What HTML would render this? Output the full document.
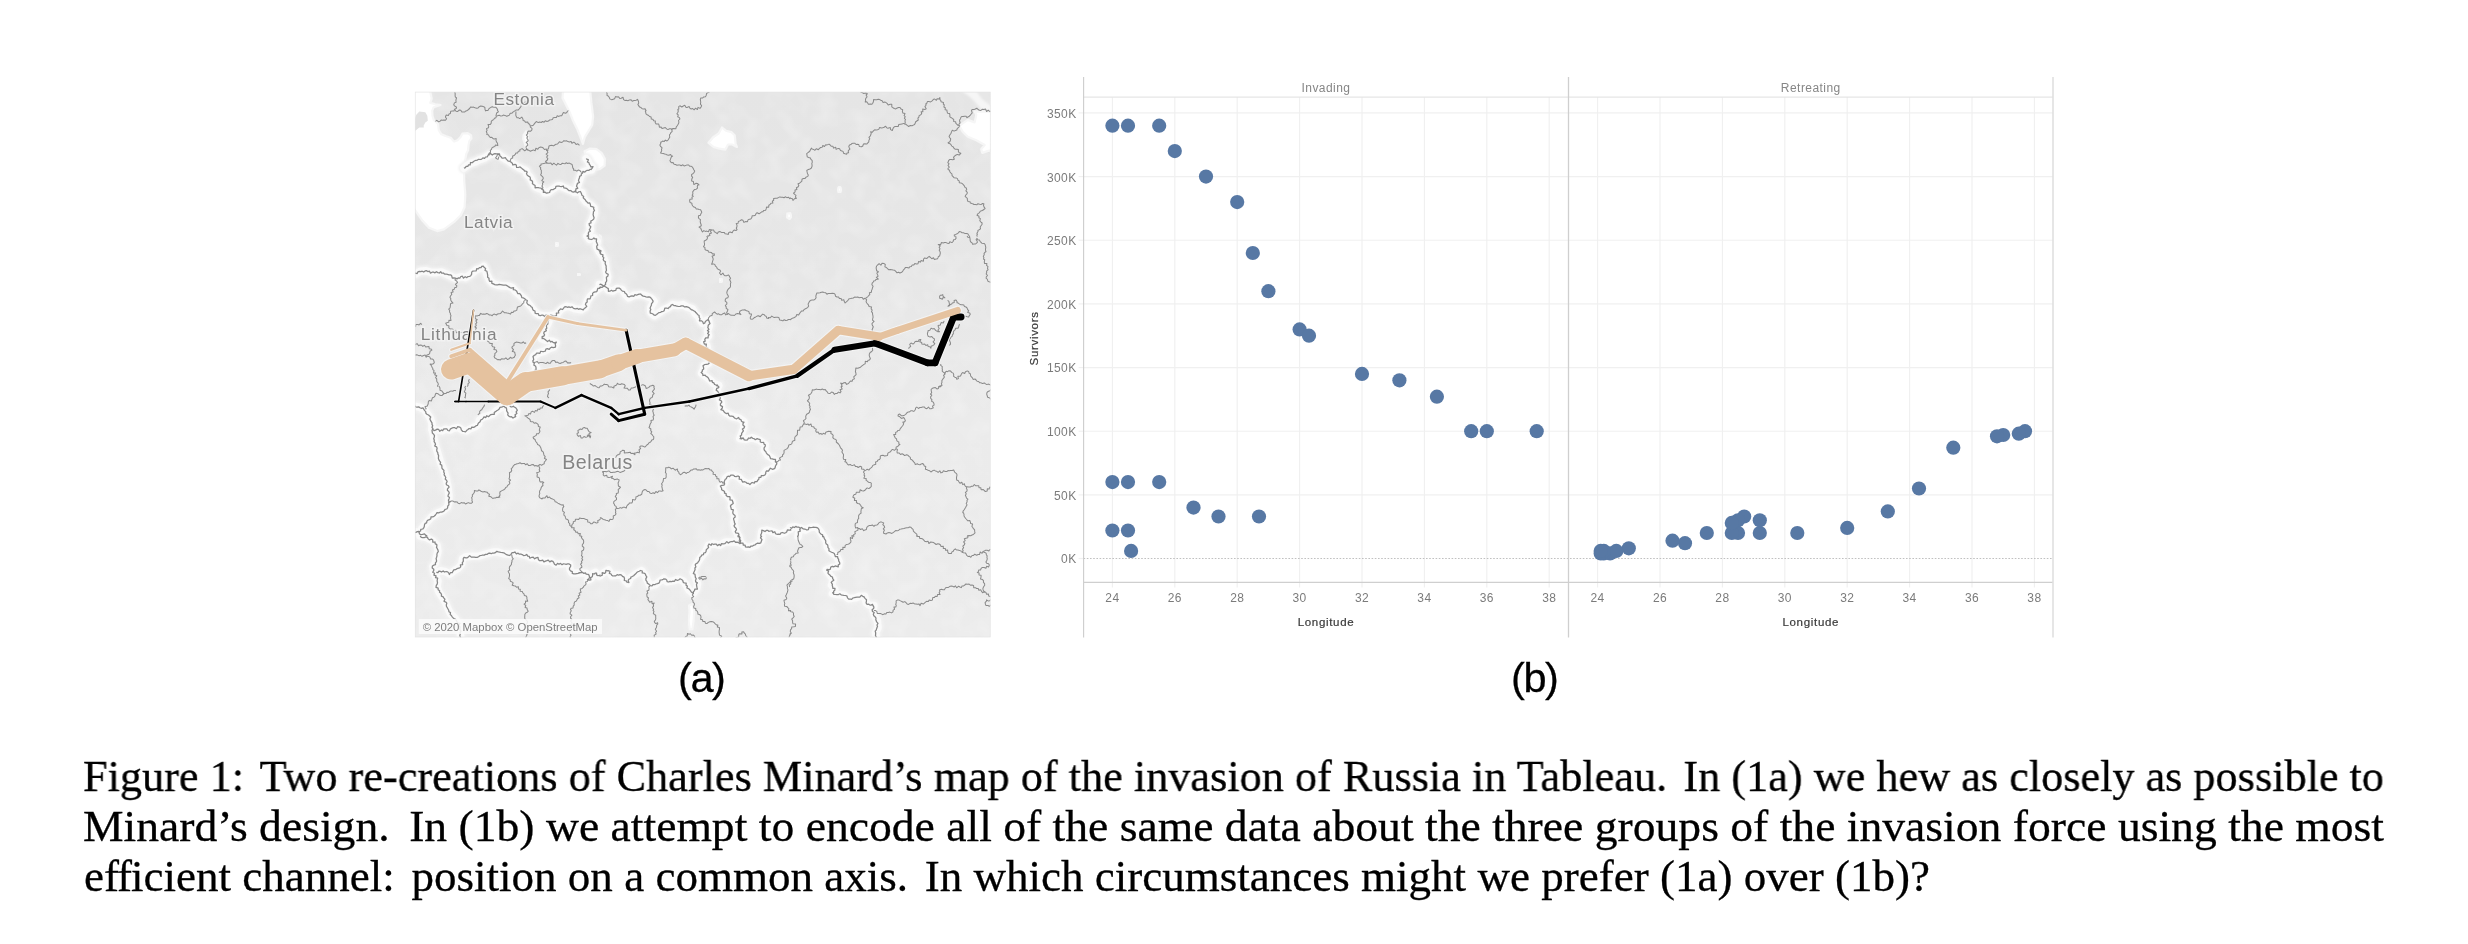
<!DOCTYPE html>
<html><head><meta charset="utf-8"><title>Figure 1</title>
<style>
html,body{margin:0;padding:0;background:#fff;}
body{width:2468px;height:944px;position:relative;overflow:hidden;font-family:"Liberation Sans",sans-serif;}
svg{position:absolute;left:0;top:0;will-change:transform;}
.sub,.cap{will-change:transform;}
.tk{font-family:"Liberation Sans",sans-serif;font-size:12px;fill:#7b7b7b;letter-spacing:0.35px;}
.hd{font-family:"Liberation Sans",sans-serif;font-size:12px;fill:#868686;letter-spacing:0.45px;}
.ax{font-family:"Liberation Sans",sans-serif;font-size:11.5px;fill:#3c3c3c;letter-spacing:0.68px;stroke:#3c3c3c;stroke-width:0.22px;}
.ml{font-family:"Liberation Sans",sans-serif;fill:#848484;}
.sub{position:absolute;letter-spacing:-1.4px;-webkit-text-stroke:0.3px #000;font-family:"Liberation Sans",sans-serif;font-size:41.5px;color:#000;line-height:1;white-space:nowrap;}
.cap{position:absolute;left:83px;font-family:"Liberation Serif",serif;font-size:45px;line-height:50px;transform-origin:0 0;color:#000;white-space:nowrap;height:50px;-webkit-text-stroke:0.3px #000;}
.sp{display:inline-block;width:5.3px;}
.cap.last{text-align:left;text-align-last:left;}
</style></head><body>
<svg width="2468" height="944" viewBox="0 0 2468 944">
<defs>
<clipPath id="mc"><rect x="415" y="92" width="575.5" height="545.2"/></clipPath>
<linearGradient id="lg" x1="0" y1="0" x2="0" y2="1"><stop offset="0" stop-color="#e5e5e5"/><stop offset="0.35" stop-color="#e7e7e7"/><stop offset="0.6" stop-color="#ebebeb"/><stop offset="1" stop-color="#ececec"/></linearGradient>
<filter id="bl" x="-5%" y="-5%" width="110%" height="110%"><feGaussianBlur stdDeviation="1.3"/></filter>
<filter id="tx" x="0" y="0" width="100%" height="100%"><feTurbulence type="fractalNoise" baseFrequency="0.055" numOctaves="2" seed="7"/><feColorMatrix type="matrix" values="0 0 0 0 1  0 0 0 0 1  0 0 0 0 1  1.6 0 0 0 -0.62"/></filter>
<filter id="bw" x="-5%" y="-5%" width="110%" height="110%"><feGaussianBlur stdDeviation="0.6"/></filter>
</defs>
<g clip-path="url(#mc)">
<rect x="415" y="92" width="575.5" height="545.2" fill="url(#lg)"/>
<rect x="415" y="92" width="575.5" height="545.2" filter="url(#tx)" opacity="0.3"/>
<path d="M410.0,86.0 L430.3,86.0 L430.3,92.1 L431.7,98.7 L430.3,102.9 L435.4,104.3 L440.5,105.0 L433.7,107.2 L432.2,110.6 L432.5,115.7 L433.7,119.9 L435.4,121.3 L438.0,124.1 L438.8,130.1 L441.4,134.3 L445.6,136.0 L450.7,137.7 L454.1,141.6 L457.5,140.2 L460.8,136.8 L462.5,133.5 L467.6,133.1 L471.0,135.2 L471.4,138.5 L469.3,141.1 L468.5,145.3 L468.0,150.4 L466.3,153.8 L463.9,167.4 L464.2,180.9 L465.3,194.5 L464.6,207.2 L460.8,215.2 L454.4,221.6 L443.9,229.4 L437.1,231.1 L429.0,227.7 L421.9,219.9 L410.0,202.9Z" fill="#ffffff" stroke="#f6f6f6" stroke-width="2.2" stroke-linejoin="round" filter="url(#bw)"/>
<path d="M563.4,86.0 L589.7,86.0 L591.4,102.9 L593.1,116.5 L592.2,125.0 L588.0,131.8 L584.9,136.8 L582.9,144.0 L580.3,136.8 L576.9,128.4 L572.7,119.9 L569.3,111.4 L565.1,102.9 L562.5,97.9Z" fill="#ffffff" stroke="#f6f6f6" stroke-width="2.2" stroke-linejoin="round" filter="url(#bw)"/>
<path d="M584.6,151.3 L589.7,148.7 L596.4,149.1 L601.5,152.9 L604.9,158.9 L604.6,165.7 L599.8,169.1 L593.9,169.9 L591.4,165.7 L587.1,160.6Z" fill="#ffffff" stroke="#f6f6f6" stroke-width="2.2" stroke-linejoin="round" filter="url(#bw)"/>
<path d="M523.6,135.2 L526.1,131.4 L528.0,135.2 L527.6,143.6 L526.6,150.1 L524.9,143.6 L523.2,138.9Z" fill="#ffffff" stroke="#f6f6f6" stroke-width="2.2" stroke-linejoin="round" filter="url(#bw)"/>
<path d="M708.5,142.8 L712.7,137.7 L718.6,133.5 L722.0,127.5 L726.3,130.9 L731.4,132.1 L734.7,135.2 L735.6,143.6 L736.9,147.0 L732.2,144.5 L728.0,144.5 L725.4,149.6 L719.5,148.7 L713.6,147.0Z" fill="#ffffff" stroke="#f6f6f6" stroke-width="2.2" stroke-linejoin="round" filter="url(#bw)"/>
<path d="M787.3,213.5 L790.2,213.1 L791.5,216.5 L789.5,219.2 L787.1,217.4Z" fill="#ffffff" stroke="#f6f6f6" stroke-width="2.2" stroke-linejoin="round" filter="url(#bw)"/>
<path d="M599.2,235.2 L601.4,236.8 L601.7,241.9 L599.2,244.5Z" fill="#ffffff" stroke="#f6f6f6" stroke-width="2.2" stroke-linejoin="round" filter="url(#bw)"/>
<path d="M959.3,125.8 L962.7,123.3 L967.8,119.9 L974.6,122.4 L976.3,114.8 L974.6,111.4 L992.5,111.8 L992.5,150.4 L988.1,150.9 L982.2,152.9 L981.2,149.1 L984.7,145.0 L976.3,140.2 L967.8,136.8 L962.7,131.8Z" fill="#ffffff" stroke="#f6f6f6" stroke-width="2.2" stroke-linejoin="round" filter="url(#bw)"/>
<path d="M841.0,189.7 L840.8,191.2 L840.3,192.2 L839.5,192.6 L838.7,192.2 L838.2,191.2 L838.0,189.7 L838.2,188.3 L838.7,187.2 L839.5,186.8 L840.3,187.2 L840.8,188.3Z" fill="#ffffff" stroke="#f6f6f6" stroke-width="2.2" stroke-linejoin="round" filter="url(#bw)"/>
<path d="M558.3,244.5 L558.1,245.4 L557.5,246.1 L556.8,246.3 L556.0,246.1 L555.5,245.4 L555.3,244.5 L555.5,243.5 L556.0,242.9 L556.8,242.6 L557.5,242.9 L558.1,243.5Z" fill="#ffffff" stroke="#f6f6f6" stroke-width="2.2" stroke-linejoin="round" filter="url(#bw)"/>
<path d="M580.0,274.6 L579.8,275.2 L579.3,275.5 L578.6,275.7 L578.0,275.5 L577.5,275.2 L577.3,274.6 L577.5,274.1 L578.0,273.8 L578.6,273.6 L579.3,273.8 L579.8,274.1Z" fill="#ffffff" stroke="#f6f6f6" stroke-width="2.2" stroke-linejoin="round" filter="url(#bw)"/>
<path d="M722.2,280.4 L722.0,281.4 L721.4,282.2 L720.7,282.4 L719.9,282.2 L719.4,281.4 L719.2,280.4 L719.4,279.4 L719.9,278.6 L720.7,278.4 L721.4,278.6 L722.0,279.4Z" fill="#ffffff" stroke="#f6f6f6" stroke-width="2.2" stroke-linejoin="round" filter="url(#bw)"/>
<path d="M689.0,605.5 L692.4,603.8 L694.1,610.6 L693.6,620.7 L692.4,629.2 L689.8,629.2 L688.5,620.7 L689.5,612.3Z" fill="#ffffff" stroke="#f6f6f6" stroke-width="2.2" stroke-linejoin="round" filter="url(#bw)"/>
<path d="M961.0,91.1 L976.3,91.1 L981.4,98.7 L992.5,107.2 L992.5,111.4 L981.4,108.9 L974.6,101.3 L967.8,95.3Z" fill="#f6f6f6" filter="url(#bl)"/>
<path d="M415.1,118.2 L416.3,114.8 L419.3,111.4 L425.3,112.3 L427.3,115.7 L427.8,120.7 L425.3,122.4 L423.6,125.8 L423.9,127.5 L419.3,127.5 L415.1,131.1Z" fill="#e2e2e2" filter="url(#bw)"/>
<g fill="none" stroke="#f2f2f2" stroke-width="11" stroke-linejoin="round" stroke-linecap="round" filter="url(#bl)">
<path d="M463.9,168.2 L466.8,165.7 L471.0,163.1 L475.3,161.9 L479.5,159.7 L484.6,158.0 L489.7,154.6 L494.7,153.5 L498.1,153.8 L502.4,157.2 L506.6,159.7 L510.0,161.9 L514.2,164.8 L518.5,167.4 L521.9,169.1 L526.1,170.7 L526.9,174.1 L530.3,177.5 L532.9,182.6 L535.4,186.8 L538.8,188.5 L542.2,189.4 L544.7,192.8 L548.1,192.4 L552.4,189.4 L557.5,186.0 L560.0,185.7 L564.2,187.7 L569.3,189.7 L574.4,191.9 L576.9,187.7 L578.6,182.6 L580.3,177.5 L582.0,172.4 L586.3,170.7 L591.4,169.9 L592.7,167.4 L589.7,164.8 L588.0,160.6 L586.3,158.5"/>
<path d="M574.4,191.9 L579.5,191.9 L582.0,192.8 L582.9,197.9 L586.3,202.1 L590.5,204.6 L593.9,208.0 L594.4,213.1 L592.2,219.9 L589.7,225.0 L590.5,230.1 L588.0,235.2 L587.6,236.6"/>
<path d="M587.1,236.0 L589.7,239.4 L593.9,237.7 L597.3,241.1 L596.4,246.2 L599.0,251.3 L600.6,253.7"/>
<path d="M600.6,287.2 L599.8,287.7 L594.7,291.9 L590.5,296.2 L587.1,301.3 L585.4,307.2 L581.2,309.7 L575.3,308.9 L571.0,307.2 L566.8,306.3 L561.7,308.9 L558.3,312.3 L556.6,314.8"/>
<path d="M410.0,275.0 L415.1,274.1 L420.2,271.3 L426.1,270.7 L431.2,272.4 L437.1,272.4 L441.4,271.9 L446.4,274.1 L451.5,276.7 L455.8,278.4 L460.8,276.7 L465.9,277.5 L471.0,274.1 L476.1,269.9 L481.2,268.2 L483.7,266.5 L485.4,269.9 L487.1,275.0 L489.7,280.1 L493.1,283.5 L498.1,285.2 L503.2,286.0 L508.3,286.0 L512.5,287.7 L515.9,291.9 L520.2,295.3 L525.3,299.6 L528.6,303.8 L532.0,308.0 L535.4,312.3 L538.8,314.8 L543.9,316.0 L550.7,315.7 L556.6,314.8"/>
<path d="M550.7,315.7 L548.1,323.3 L545.6,328.4 L544.7,334.3 L541.4,338.5 L545.6,340.2 L552.4,341.1 L556.1,342.8 L554.1,347.0 L549.0,348.7 L543.9,351.3 L538.8,352.9 L533.7,356.3 L532.9,361.4 L535.4,366.5 L537.1,369.9 L528.6,376.7 L518.5,383.5 L514.5,386.6"/>
<path d="M506.6,403.8 L510.0,405.5 L514.2,406.3 L516.8,410.6 L515.9,415.7 L511.7,417.4 L508.3,415.7 L507.5,411.4 L506.6,407.2 L504.9,406.3 L500.7,408.0 L496.4,410.6 L493.1,414.0 L488.0,415.7 L482.9,417.4 L479.5,419.9 L478.6,424.1 L475.3,426.7 L471.0,428.4 L466.8,430.9 L462.5,430.1 L458.3,427.5 L453.2,428.4 L449.8,430.1 L445.6,429.2 L442.2,430.9 L437.1,430.1 L432.0,429.2"/>
<path d="M410.0,406.0 L415.1,406.3 L419.3,407.2 L424.4,409.7 L426.9,413.1 L430.3,418.2 L432.0,423.3 L432.0,429.2 L433.7,436.8 L435.4,445.3 L438.0,453.8 L440.5,462.3 L443.9,470.7 L446.4,479.2 L448.1,487.7 L449.0,496.2 L448.6,502.9 L447.3,507.2 L443.1,510.6 L437.1,513.1 L431.2,517.4 L426.9,522.4 L422.7,527.5 L419.3,532.6 L424.4,535.2 L426.6,536.6"/>
<path d="M410.0,531.4 L415.1,531.8 L419.3,532.6"/>
<path d="M420.2,536.0 L426.9,537.7 L432.9,541.1 L437.1,545.3 L438.0,551.3 L436.3,558.0 L435.4,563.1 L432.9,566.5 L433.7,572.4 L436.3,577.5 L438.0,580.9 L437.1,586.8 L438.8,591.9 L442.2,597.0 L445.6,602.9 L448.1,608.9 L450.7,614.0 L454.9,618.2 L459.2,624.1 L460.8,637.7"/>
<path d="M436.3,572.4 L440.5,570.7 L445.6,571.6 L449.8,574.1 L454.1,570.7 L458.3,568.2 L461.7,564.0 L462.5,558.9 L465.9,556.7 L472.7,556.3 L479.5,556.0 L486.3,553.8 L493.1,552.1 L498.1,552.1 L503.2,553.8 L510.0,554.3 L515.9,552.9 L521.9,554.3 L526.9,555.5 L531.2,557.7 L537.1,558.0 L541.4,560.6 L545.6,561.4 L550.7,561.1 L554.9,564.0 L560.8,564.0 L565.9,563.5 L569.3,564.0 L570.2,569.9 L571.9,572.9 L579.5,572.9 L586.3,573.3 L588.8,575.8 L588.0,580.1 L591.4,578.4 L593.1,573.3 L595.6,572.4 L598.1,575.8 L600.6,575.0"/>
<path d="M599.4,576.2 L600.0,575.8 L604.2,572.4 L608.5,569.9 L611.9,575.8 L616.9,575.0 L622.0,575.8 L625.4,580.9 L628.0,583.5 L630.5,577.5 L635.6,574.1 L641.5,570.7 L644.9,575.0 L647.5,580.9 L650.0,586.0 L655.9,584.3 L660.2,580.9 L663.6,578.4 L666.9,581.8 L672.9,580.9 L678.8,579.2 L683.1,580.9 L686.4,585.2 L689.0,590.2 L693.2,593.6 L696.6,588.5 L697.5,583.5 L695.8,578.4 L693.2,572.4 L694.9,567.4 L698.3,561.4 L701.7,556.3 L705.9,551.3 L708.5,545.3 L713.6,543.6 L719.5,545.3 L725.4,541.9 L733.9,541.9 L740.7,542.8 L745.8,547.0 L750.8,547.0 L755.9,545.3 L761.0,541.1 L761.9,536.0"/>
<path d="M599.4,284.6 L604.2,285.2 L608.5,290.2 L612.7,291.1 L616.9,288.5 L622.0,289.4 L625.4,294.5 L628.8,297.9 L633.9,295.3 L640.7,294.5 L646.6,296.2 L651.7,298.7 L654.2,301.3 L650.8,307.2 L650.8,312.3 L654.2,315.7 L658.5,313.1 L663.6,309.7 L667.8,308.0 L672.9,304.6 L678.0,305.5 L683.1,304.6 L687.3,307.2 L692.4,308.9 L694.9,313.1 L698.3,316.5 L700.0,319.9 L702.5,323.3 L705.9,320.7 L708.5,319.9 L709.3,325.8 L707.6,330.9 L708.5,336.0 L705.9,339.4 L704.2,342.8 L706.8,345.3 L708.5,354.6 L708.5,363.5 L704.2,365.7 L703.4,369.9 L701.7,373.3 L705.9,376.7 L710.2,380.1 L713.6,383.5 L718.6,385.2 L718.1,386.6"/>
<path d="M718.6,386.0 L716.9,389.4 L719.5,397.9 L721.2,402.9 L722.0,409.7 L726.3,413.1 L732.2,416.5 L739.0,418.2 L744.1,421.6 L743.7,428.4 L741.5,434.3 L739.8,438.5 L745.8,439.4 L752.5,437.7 L759.3,440.2 L765.3,444.5 L764.4,450.4 L767.8,455.5 L772.9,458.9 L776.3,461.4 L776.3,466.5 L771.2,469.1 L766.9,470.7 L762.7,475.8 L758.5,479.2 L752.5,483.5 L747.5,483.5 L742.4,480.9 L738.1,476.7 L733.9,475.0 L728.8,475.8 L725.4,478.4 L724.6,482.6 L721.2,486.8 L723.7,491.9 L728.8,497.0 L732.2,502.1 L731.4,507.2 L733.9,512.3 L734.7,517.4 L733.9,523.3 L735.6,530.1 L738.1,535.2 L738.9,536.6"/>
<path d="M761.1,536.6 L761.9,530.9 L766.9,530.1 L772.9,531.8 L779.7,534.3 L784.7,532.6 L789.8,529.2 L790.6,529.0"/>
<path d="M790.0,527.5 L795.1,526.7 L801.0,528.4 L805.3,530.1 L810.3,527.5 L816.3,527.0 L820.5,531.8 L823.7,536.6"/>
<path d="M801.0,528.4 L798.5,533.5 L798.0,536.6"/>
<path d="M823.1,536.0 L826.4,541.1 L827.3,547.0 L831.5,552.1 L836.6,556.3 L839.2,561.4 L838.3,566.5 L832.4,567.4 L826.4,569.9 L829.8,575.0 L833.2,579.2 L831.5,585.2 L834.9,589.4 L832.4,593.6 L837.5,594.5 L844.2,595.3 L848.5,598.7 L855.3,597.9 L859.5,596.2 L864.6,596.2 L866.3,602.9 L869.7,605.5 L873.9,605.5 L873.1,610.6 L874.7,615.7 L877.3,620.7 L878.1,627.5 L875.6,632.6 L876.4,637.7"/>
<path d="M599.4,250.1 L600.0,251.3 L602.5,256.3 L605.1,261.4 L605.9,268.2 L607.6,276.7 L606.8,281.8 L604.2,285.2 L599.4,288.1"/>
<path d="M737.8,535.4 L739.8,539.4 L740.7,542.8"/>
</g>
<g fill="none" stroke="#fafafa" stroke-width="7.5" stroke-linejoin="round" stroke-linecap="round" filter="url(#bw)">
<path d="M463.9,168.2 L466.8,165.7 L471.0,163.1 L475.3,161.9 L479.5,159.7 L484.6,158.0 L489.7,154.6 L494.7,153.5 L498.1,153.8 L502.4,157.2 L506.6,159.7 L510.0,161.9 L514.2,164.8 L518.5,167.4 L521.9,169.1 L526.1,170.7 L526.9,174.1 L530.3,177.5 L532.9,182.6 L535.4,186.8 L538.8,188.5 L542.2,189.4 L544.7,192.8 L548.1,192.4 L552.4,189.4 L557.5,186.0 L560.0,185.7 L564.2,187.7 L569.3,189.7 L574.4,191.9 L576.9,187.7 L578.6,182.6 L580.3,177.5 L582.0,172.4 L586.3,170.7 L591.4,169.9 L592.7,167.4 L589.7,164.8 L588.0,160.6 L586.3,158.5"/>
<path d="M574.4,191.9 L579.5,191.9 L582.0,192.8 L582.9,197.9 L586.3,202.1 L590.5,204.6 L593.9,208.0 L594.4,213.1 L592.2,219.9 L589.7,225.0 L590.5,230.1 L588.0,235.2 L587.6,236.6"/>
<path d="M587.1,236.0 L589.7,239.4 L593.9,237.7 L597.3,241.1 L596.4,246.2 L599.0,251.3 L600.6,253.7"/>
<path d="M600.6,287.2 L599.8,287.7 L594.7,291.9 L590.5,296.2 L587.1,301.3 L585.4,307.2 L581.2,309.7 L575.3,308.9 L571.0,307.2 L566.8,306.3 L561.7,308.9 L558.3,312.3 L556.6,314.8"/>
<path d="M410.0,275.0 L415.1,274.1 L420.2,271.3 L426.1,270.7 L431.2,272.4 L437.1,272.4 L441.4,271.9 L446.4,274.1 L451.5,276.7 L455.8,278.4 L460.8,276.7 L465.9,277.5 L471.0,274.1 L476.1,269.9 L481.2,268.2 L483.7,266.5 L485.4,269.9 L487.1,275.0 L489.7,280.1 L493.1,283.5 L498.1,285.2 L503.2,286.0 L508.3,286.0 L512.5,287.7 L515.9,291.9 L520.2,295.3 L525.3,299.6 L528.6,303.8 L532.0,308.0 L535.4,312.3 L538.8,314.8 L543.9,316.0 L550.7,315.7 L556.6,314.8"/>
<path d="M550.7,315.7 L548.1,323.3 L545.6,328.4 L544.7,334.3 L541.4,338.5 L545.6,340.2 L552.4,341.1 L556.1,342.8 L554.1,347.0 L549.0,348.7 L543.9,351.3 L538.8,352.9 L533.7,356.3 L532.9,361.4 L535.4,366.5 L537.1,369.9 L528.6,376.7 L518.5,383.5 L514.5,386.6"/>
<path d="M506.6,403.8 L510.0,405.5 L514.2,406.3 L516.8,410.6 L515.9,415.7 L511.7,417.4 L508.3,415.7 L507.5,411.4 L506.6,407.2 L504.9,406.3 L500.7,408.0 L496.4,410.6 L493.1,414.0 L488.0,415.7 L482.9,417.4 L479.5,419.9 L478.6,424.1 L475.3,426.7 L471.0,428.4 L466.8,430.9 L462.5,430.1 L458.3,427.5 L453.2,428.4 L449.8,430.1 L445.6,429.2 L442.2,430.9 L437.1,430.1 L432.0,429.2"/>
<path d="M410.0,406.0 L415.1,406.3 L419.3,407.2 L424.4,409.7 L426.9,413.1 L430.3,418.2 L432.0,423.3 L432.0,429.2 L433.7,436.8 L435.4,445.3 L438.0,453.8 L440.5,462.3 L443.9,470.7 L446.4,479.2 L448.1,487.7 L449.0,496.2 L448.6,502.9 L447.3,507.2 L443.1,510.6 L437.1,513.1 L431.2,517.4 L426.9,522.4 L422.7,527.5 L419.3,532.6 L424.4,535.2 L426.6,536.6"/>
<path d="M410.0,531.4 L415.1,531.8 L419.3,532.6"/>
<path d="M420.2,536.0 L426.9,537.7 L432.9,541.1 L437.1,545.3 L438.0,551.3 L436.3,558.0 L435.4,563.1 L432.9,566.5 L433.7,572.4 L436.3,577.5 L438.0,580.9 L437.1,586.8 L438.8,591.9 L442.2,597.0 L445.6,602.9 L448.1,608.9 L450.7,614.0 L454.9,618.2 L459.2,624.1 L460.8,637.7"/>
<path d="M436.3,572.4 L440.5,570.7 L445.6,571.6 L449.8,574.1 L454.1,570.7 L458.3,568.2 L461.7,564.0 L462.5,558.9 L465.9,556.7 L472.7,556.3 L479.5,556.0 L486.3,553.8 L493.1,552.1 L498.1,552.1 L503.2,553.8 L510.0,554.3 L515.9,552.9 L521.9,554.3 L526.9,555.5 L531.2,557.7 L537.1,558.0 L541.4,560.6 L545.6,561.4 L550.7,561.1 L554.9,564.0 L560.8,564.0 L565.9,563.5 L569.3,564.0 L570.2,569.9 L571.9,572.9 L579.5,572.9 L586.3,573.3 L588.8,575.8 L588.0,580.1 L591.4,578.4 L593.1,573.3 L595.6,572.4 L598.1,575.8 L600.6,575.0"/>
<path d="M599.4,576.2 L600.0,575.8 L604.2,572.4 L608.5,569.9 L611.9,575.8 L616.9,575.0 L622.0,575.8 L625.4,580.9 L628.0,583.5 L630.5,577.5 L635.6,574.1 L641.5,570.7 L644.9,575.0 L647.5,580.9 L650.0,586.0 L655.9,584.3 L660.2,580.9 L663.6,578.4 L666.9,581.8 L672.9,580.9 L678.8,579.2 L683.1,580.9 L686.4,585.2 L689.0,590.2 L693.2,593.6 L696.6,588.5 L697.5,583.5 L695.8,578.4 L693.2,572.4 L694.9,567.4 L698.3,561.4 L701.7,556.3 L705.9,551.3 L708.5,545.3 L713.6,543.6 L719.5,545.3 L725.4,541.9 L733.9,541.9 L740.7,542.8 L745.8,547.0 L750.8,547.0 L755.9,545.3 L761.0,541.1 L761.9,536.0"/>
<path d="M599.4,284.6 L604.2,285.2 L608.5,290.2 L612.7,291.1 L616.9,288.5 L622.0,289.4 L625.4,294.5 L628.8,297.9 L633.9,295.3 L640.7,294.5 L646.6,296.2 L651.7,298.7 L654.2,301.3 L650.8,307.2 L650.8,312.3 L654.2,315.7 L658.5,313.1 L663.6,309.7 L667.8,308.0 L672.9,304.6 L678.0,305.5 L683.1,304.6 L687.3,307.2 L692.4,308.9 L694.9,313.1 L698.3,316.5 L700.0,319.9 L702.5,323.3 L705.9,320.7 L708.5,319.9 L709.3,325.8 L707.6,330.9 L708.5,336.0 L705.9,339.4 L704.2,342.8 L706.8,345.3 L708.5,354.6 L708.5,363.5 L704.2,365.7 L703.4,369.9 L701.7,373.3 L705.9,376.7 L710.2,380.1 L713.6,383.5 L718.6,385.2 L718.1,386.6"/>
<path d="M718.6,386.0 L716.9,389.4 L719.5,397.9 L721.2,402.9 L722.0,409.7 L726.3,413.1 L732.2,416.5 L739.0,418.2 L744.1,421.6 L743.7,428.4 L741.5,434.3 L739.8,438.5 L745.8,439.4 L752.5,437.7 L759.3,440.2 L765.3,444.5 L764.4,450.4 L767.8,455.5 L772.9,458.9 L776.3,461.4 L776.3,466.5 L771.2,469.1 L766.9,470.7 L762.7,475.8 L758.5,479.2 L752.5,483.5 L747.5,483.5 L742.4,480.9 L738.1,476.7 L733.9,475.0 L728.8,475.8 L725.4,478.4 L724.6,482.6 L721.2,486.8 L723.7,491.9 L728.8,497.0 L732.2,502.1 L731.4,507.2 L733.9,512.3 L734.7,517.4 L733.9,523.3 L735.6,530.1 L738.1,535.2 L738.9,536.6"/>
<path d="M761.1,536.6 L761.9,530.9 L766.9,530.1 L772.9,531.8 L779.7,534.3 L784.7,532.6 L789.8,529.2 L790.6,529.0"/>
<path d="M790.0,527.5 L795.1,526.7 L801.0,528.4 L805.3,530.1 L810.3,527.5 L816.3,527.0 L820.5,531.8 L823.7,536.6"/>
<path d="M801.0,528.4 L798.5,533.5 L798.0,536.6"/>
<path d="M823.1,536.0 L826.4,541.1 L827.3,547.0 L831.5,552.1 L836.6,556.3 L839.2,561.4 L838.3,566.5 L832.4,567.4 L826.4,569.9 L829.8,575.0 L833.2,579.2 L831.5,585.2 L834.9,589.4 L832.4,593.6 L837.5,594.5 L844.2,595.3 L848.5,598.7 L855.3,597.9 L859.5,596.2 L864.6,596.2 L866.3,602.9 L869.7,605.5 L873.9,605.5 L873.1,610.6 L874.7,615.7 L877.3,620.7 L878.1,627.5 L875.6,632.6 L876.4,637.7"/>
<path d="M599.4,250.1 L600.0,251.3 L602.5,256.3 L605.1,261.4 L605.9,268.2 L607.6,276.7 L606.8,281.8 L604.2,285.2 L599.4,288.1"/>
<path d="M737.8,535.4 L739.8,539.4 L740.7,542.8"/>
</g>
<g fill="none" stroke="#8a8a8a" stroke-width="1.02" stroke-linejoin="round">
<path d="M435.4,121.3 L436.8,120.3 L438.4,121.7 L439.8,121.5 L441.1,120.1 L442.6,120.3 L444.0,120.0 L445.5,120.3 L446.6,118.8 L445.4,117.0 L446.1,115.1 L448.5,115.4 L449.0,113.9 L450.4,113.5 L450.7,111.2 L452.4,111.1 L454.0,111.0 L454.6,109.2 L456.2,108.6 L456.6,107.2 L454.5,105.9 L453.8,104.7 L454.4,102.9 L456.1,102.2 L455.9,100.3 L456.2,98.8 L456.6,98.0 L455.3,96.9 L455.1,95.4 L455.2,93.9 L454.9,92.4 L454.4,91.1"/>
<path d="M454.9,109.7 L456.0,111.2 L457.4,111.6 L459.4,110.0 L460.8,110.3 L461.9,112.1 L463.4,112.0 L464.8,111.9 L465.9,110.9 L467.4,110.4 L468.5,109.5 L469.6,108.5 L470.6,106.9 L472.1,107.3 L473.5,107.1 L475.0,107.8 L476.7,108.3 L478.1,107.9 L479.3,106.7 L480.7,106.0 L482.3,106.2 L483.7,106.7 L484.9,107.5 L485.0,109.6 L485.7,110.9 L486.0,110.5 L487.9,110.6 L488.6,109.1 L489.7,108.2 L491.0,107.3 L492.4,106.7 L493.9,107.2 L495.7,107.1 L496.8,108.3 L497.7,110.0 L497.4,110.2 L498.4,111.8 L496.6,113.0 L496.3,114.3 L496.0,115.7 L496.4,116.2"/>
<path d="M496.4,116.2 L495.9,117.7 L494.5,118.3 L493.7,119.6 L492.4,120.3 L491.3,121.2 L491.2,123.2 L490.3,124.4 L488.0,124.5 L488.7,126.2 L488.5,127.7 L486.4,128.6 L487.1,130.3 L486.3,131.7 L487.1,133.2 L486.8,134.6 L488.3,134.8 L489.2,136.3 L490.3,137.4 L491.9,137.3 L492.9,138.5 L494.2,139.1 L496.2,138.6 L496.0,140.6 L496.5,141.9 L497.5,143.2 L497.8,145.5 L495.5,145.0 L494.8,146.4 L493.4,147.0 L491.9,147.9 L491.5,149.3 L490.3,150.4 L490.6,152.2 L489.2,153.1 L489.2,154.8 L488.8,155.5"/>
<path d="M496.4,116.2 L497.9,115.6 L499.4,115.3 L500.8,116.1 L502.3,115.7 L503.3,115.1 L504.9,115.4 L506.7,116.3 L508.0,115.7 L509.4,115.1 L510.2,113.3 L511.8,113.3 L512.9,112.2 L514.1,111.3 L515.4,110.6 L516.2,109.9 L518.4,109.9 L519.3,108.8 L520.2,107.6 L521.1,106.3 L520.5,104.3 L521.2,103.1 L522.9,102.7 L524.3,102.4 L525.8,102.0 L527.1,101.4 L526.9,100.4"/>
<path d="M515.9,111.4 L515.9,112.9 L515.8,114.4 L515.9,115.8 L517.0,117.8 L518.6,117.8 L519.8,118.6 L521.8,117.1 L522.8,118.7 L523.2,120.6 L524.7,121.0 L525.4,122.3 L527.7,122.0 L528.3,123.5 L529.6,124.2 L530.2,125.7 L530.4,127.1 L532.0,128.3 L531.9,129.8 L530.5,131.3 L528.5,131.1 L527.5,132.1 L527.7,133.7 L526.3,135.1 L527.7,136.6 L526.8,138.0 L527.8,139.5 L528.2,140.9 L526.2,142.4 L527.6,143.8 L527.8,145.2 L526.0,146.8 L526.2,148.2 L527.6,149.6 L527.3,150.4"/>
<path d="M530.3,125.8 L531.9,125.8 L533.3,125.3 L534.3,123.9 L535.3,122.7 L536.3,121.5 L538.3,122.6 L539.7,122.1 L541.2,122.5 L542.5,121.5 L544.1,122.2 L545.3,120.8 L547.0,121.5 L548.4,121.1 L549.6,120.0 L551.0,119.8 L552.5,119.4 L553.2,117.7 L554.8,117.6 L556.4,117.5 L557.2,115.8 L558.9,116.4 L560.2,115.8 L561.7,115.7 L562.6,113.9 L563.4,112.6 L565.5,113.2 L566.8,112.5 L567.6,111.1 L568.5,110.6"/>
<path d="M510.0,161.4 L510.5,160.0 L511.0,158.6 L512.7,158.0 L512.6,156.1 L514.2,155.5 L515.2,154.4 L515.9,153.0 L517.7,152.9 L518.3,151.2 L519.9,151.1 L519.8,149.6 L522.1,148.6 L523.4,149.6 L524.7,150.8 L526.4,149.5 L527.6,149.7 L529.1,150.5 L530.6,151.3 L532.0,150.4 L533.5,149.9 L535.2,150.7 L535.9,148.2 L537.8,149.3 L538.8,147.7 L540.5,147.1 L541.9,147.3 L543.3,148.0 L544.4,149.5 L546.4,149.0 L546.6,150.6 L547.8,150.9 L547.8,149.3 L548.6,148.1 L549.0,145.9 L550.3,145.4 L551.8,145.2 L553.5,145.9 L554.8,145.0 L556.0,144.2 L557.5,144.0 L558.5,142.9 L559.4,141.8 L561.2,142.4 L562.6,142.0 L563.8,140.7 L565.4,141.1 L566.8,140.8 L567.9,141.6 L569.3,141.9 L571.1,141.4 L571.9,143.3 L573.9,142.1 L575.1,143.1 L576.1,144.5 L577.9,143.8 L579.0,145.0 L579.5,145.3"/>
<path d="M547.3,151.3 L547.9,152.7 L546.1,154.1 L547.8,155.6 L546.6,157.0 L547.8,158.6 L547.4,160.0 L545.5,161.3 L547.0,162.9 L545.3,163.0 L543.9,163.6 L542.4,163.8 L541.0,163.9 L541.1,165.0 L539.4,166.2 L540.8,167.9 L540.4,169.0 L541.3,170.2 L541.3,171.7 L541.4,173.2 L540.6,174.9 L542.0,176.1 L543.1,177.3 L543.2,178.8 L541.8,180.6 L543.8,181.9 L542.5,183.2 L542.7,184.7 L541.9,186.1 L542.9,187.4 L542.5,189.0 L543.4,190.2 L543.8,191.7 L544.7,192.8"/>
<path d="M546.4,163.1 L547.9,163.3 L549.4,163.3 L550.9,162.9 L552.1,164.8 L553.8,163.2 L555.0,164.2 L556.5,165.2 L557.9,163.4 L559.4,164.3 L560.8,164.6 L562.3,163.2 L563.5,163.5 L565.2,163.7 L566.3,162.7 L567.4,163.5 L569.3,163.1 L570.6,163.8 L572.1,164.5 L572.5,166.2 L572.8,168.0 L573.6,168.7 L573.6,170.2 L575.5,170.3 L576.8,171.2 L578.4,170.0 L579.8,170.4 L580.8,171.9 L582.0,172.4"/>
<path d="M498.8,156.7 L498.5,158.1 L498.0,159.4 L496.9,158.9 L495.6,157.8 L496.8,156.3 L497.2,155.2 L497.6,154.2 L499.1,154.4 L498.6,155.2"/>
<path d="M605.9,91.1 L606.7,92.3 L607.1,93.7 L607.0,95.4 L608.5,96.3 L609.3,97.5 L609.8,98.9 L611.4,99.6 L611.8,99.8 L613.2,99.3 L614.6,98.8 L615.5,96.6 L616.9,97.1 L618.4,96.7 L619.8,98.4 L621.2,98.3 L623.0,97.2 L623.6,99.6 L624.8,100.4 L626.4,100.3 L627.9,100.7 L629.5,99.9 L631.1,99.8 L632.2,101.2 L633.9,100.5 L634.8,100.5 L636.3,100.2 L637.5,99.3 L638.5,101.5 L638.7,103.0 L637.9,104.5 L638.8,105.9 L639.6,107.1 L641.0,107.6 L642.1,108.7 L643.6,108.9 L645.1,108.8 L646.1,110.8 L645.3,111.0 L645.7,112.4 L646.0,113.9 L647.2,114.8 L648.6,115.5 L649.6,116.5 L651.1,117.0 L651.3,119.1 L652.9,119.2 L653.7,120.8 L655.4,120.9 L655.2,122.8 L656.1,123.9 L658.6,124.0 L659.1,125.4 L659.4,127.2 L661.1,127.0 L662.0,128.6 L663.8,128.0 L665.3,127.5 L666.6,128.9 L667.9,129.6 L669.5,128.7 L671.1,128.7 L672.0,130.1"/>
<path d="M710.2,91.1 L709.1,92.1 L707.7,92.7 L706.6,93.5 L706.2,95.4 L705.4,96.7 L703.7,96.9 L702.7,98.0 L700.8,97.9 L700.3,99.7 L700.6,101.2 L700.7,102.6 L700.4,104.1 L701.6,105.5 L701.1,107.0 L700.0,108.4 L698.0,107.4 L697.4,109.6 L695.6,108.2 L694.1,109.8 L692.7,108.5 L691.1,109.0 L689.9,108.2 L689.2,106.6 L687.0,107.4 L686.1,107.4 L684.8,105.3 L683.3,106.0 L681.8,107.0 L679.9,105.8 L678.7,106.6 L678.8,109.0 L677.8,109.5 L678.3,111.0 L677.8,112.5 L676.9,113.8 L678.3,114.9 L677.7,116.7 L679.5,117.6 L679.9,119.0 L678.5,120.5 L678.9,122.1 L678.6,123.5 L677.8,124.8 L677.0,126.0 L676.2,127.1 L675.8,128.8 L673.6,128.5 L672.0,128.7 L672.0,130.1"/>
<path d="M672.0,130.1 L672.1,131.6 L670.8,132.7 L670.2,134.0 L669.4,135.0 L669.8,137.1 L669.1,138.3 L668.4,139.6 L667.0,141.0 L665.3,140.1 L664.1,141.6 L662.6,141.1 L661.3,142.1 L660.8,142.0 L660.7,143.5 L659.9,145.0 L660.6,146.4 L662.1,147.9 L661.5,149.3 L661.7,150.7 L660.5,152.9 L661.9,153.3 L663.3,153.6 L664.7,154.1 L666.1,154.3 L667.3,155.1 L668.8,155.3 L670.6,154.5 L671.6,156.2 L672.7,156.1 L671.4,156.9 L670.8,158.3 L670.3,159.7 L669.9,160.6 L670.6,161.9 L671.4,162.7 L672.9,162.4 L674.1,164.2 L675.5,164.5 L676.9,165.2 L678.3,164.9 L679.8,164.9 L681.1,165.7 L682.9,164.8 L684.1,166.0 L685.5,165.6 L687.0,164.9 L688.7,165.0 L689.7,166.3 L691.3,166.3 L692.5,167.2 L693.1,168.3 L693.8,169.7 L694.7,171.0 L694.0,172.6 L692.9,173.7 L691.7,174.4 L691.6,174.6 L691.6,176.1 L692.7,177.3 L691.8,179.1 L691.6,180.9 L693.4,181.5 L693.6,183.1 L693.9,184.6 L696.1,183.3 L697.5,183.4 L699.0,184.9 L697.7,184.9 L697.3,186.4 L697.5,188.2 L696.3,189.2 L694.5,189.6 L693.5,190.7 L692.7,191.9 L692.9,193.9 L692.1,195.2 L693.3,196.4 L691.9,197.2 L692.2,199.1 L689.9,199.3 L689.6,200.9 L690.1,202.6 L691.9,203.2 L692.0,204.8 L692.8,206.0 L693.9,207.1 L695.4,207.4 L696.1,208.9 L697.8,209.0 L699.1,209.5 L700.6,209.7 L701.5,211.4 L701.7,212.7 L700.8,213.8 L700.4,215.3 L698.5,215.8 L698.4,217.3 L698.9,218.6 L700.5,219.6 L700.2,221.3 L700.4,222.8 L701.0,224.2 L701.3,225.7 L699.0,227.1 L700.8,228.2 L701.2,229.6 L701.9,230.9 L702.5,231.9 L703.8,230.6 L705.3,231.4 L706.7,231.1 L708.4,231.8 L709.3,229.6 L710.9,229.8 L711.9,230.1"/>
<path d="M711.9,230.1 L713.6,229.9 L714.3,231.7 L715.6,232.4 L717.2,233.7 L718.4,231.9 L719.8,231.5 L721.4,232.4 L722.5,232.5 L724.2,232.4 L725.1,233.8 L726.7,233.9 L728.2,234.5 L728.8,232.5 L730.2,232.0 L732.2,232.8 L733.0,231.1 L734.1,230.1 L736.0,230.6 L737.1,229.7 L736.3,228.3 L736.9,226.7 L737.0,225.2 L736.2,223.4 L738.0,223.3 L738.4,221.5 L739.8,220.9 L741.5,219.8 L742.9,220.3 L744.0,222.4 L745.7,221.5 L747.5,221.7 L748.0,219.9 L749.3,219.3 L750.8,218.9 L751.8,217.7 L752.2,215.7 L753.9,215.8 L755.3,215.3 L756.0,213.7 L757.1,212.7 L759.1,213.8 L760.4,212.8 L761.7,211.8 L763.0,211.8 L763.6,210.4 L765.6,210.3 L766.2,208.9 L766.5,207.1 L768.7,207.3 L768.8,205.2 L770.1,204.5 L770.9,203.2 L772.9,203.1 L772.3,201.2 L773.7,200.3 L773.6,198.6 L775.6,198.2 L777.1,198.3 L778.4,197.6 L779.8,196.9 L781.2,197.2 L782.6,197.2 L784.0,197.8 L785.6,196.8 L786.9,197.7 L788.4,197.2 L789.8,198.7 L790.6,197.9"/>
<path d="M711.9,230.1 L710.2,230.9 L711.5,233.1 L709.5,233.8 L709.9,235.6 L707.6,235.9 L708.5,236.6"/>
<path d="M858.6,91.1 L860.1,91.4 L861.3,92.3 L862.6,92.8 L863.8,93.5 L865.2,93.0 L866.7,93.2 L867.3,93.9 L866.1,95.0 L867.0,96.8 L866.0,98.0 L865.5,99.3 L865.6,100.9 L865.2,102.0 L866.8,101.7 L867.8,103.2 L868.4,104.2 L870.6,104.1 L871.9,104.3 L872.7,103.2 L873.4,101.8 L873.6,99.4 L875.2,99.7 L876.8,99.7 L878.2,99.2 L879.6,99.6 L880.8,100.3 L882.1,100.8 L883.1,102.4 L884.8,102.0 L886.1,102.6 L887.3,103.6 L888.2,105.0 L890.2,104.3 L891.8,104.3 L891.8,106.9 L893.0,107.7 L894.3,108.5 L895.8,108.9 L897.2,108.0 L898.5,107.5 L900.0,107.5 L901.1,109.1 L902.7,109.7 L902.4,111.6 L902.9,113.0 L905.0,113.6 L904.1,115.7 L905.2,116.7 L904.4,118.2 L905.5,119.6 L904.9,120.9 L905.3,122.4 L904.7,123.8 L904.9,124.1"/>
<path d="M904.9,124.1 L906.3,124.6 L907.5,125.7 L908.7,126.5 L910.3,125.4 L912.0,125.8 L913.3,125.1 L914.6,124.5 L915.4,122.7 L915.5,122.0 L916.8,121.0 L918.3,120.0 L917.9,118.2 L918.9,117.1 L919.1,115.6 L920.8,114.8 L921.7,113.6 L921.1,111.7 L922.9,111.7 L922.7,109.1 L924.8,109.5 L926.2,108.8 L924.9,106.6 L926.0,105.2 L925.8,103.7 L926.6,103.7 L927.4,101.6 L928.9,101.6 L930.6,101.9 L931.8,101.1 L933.0,99.9 L934.2,98.9 L936.4,100.3 L937.1,98.7 L938.9,98.9 L939.9,97.6 L939.9,99.6 L940.9,100.7 L941.0,101.8 L943.5,102.5 L943.3,104.0 L944.3,104.9 L943.9,107.0 L945.3,107.7 L945.1,109.7 L946.9,110.1 L947.1,111.8 L947.6,113.2 L949.6,113.6 L949.9,115.2 L949.8,116.9 L951.3,117.7 L952.6,118.6 L953.7,119.5 L953.7,121.4 L955.6,121.7 L955.9,123.3 L957.0,124.3 L958.0,125.4 L959.7,125.7 L959.5,126.7"/>
<path d="M959.3,125.8 L958.8,124.3 L960.1,123.0 L959.7,121.5 L959.6,120.0 L960.5,118.7 L960.9,117.3 L961.7,116.5 L963.1,116.6 L964.6,116.2 L966.1,116.3 L967.0,117.7 L967.9,117.0 L969.3,116.2 L970.3,115.1 L971.2,114.0 L972.2,112.8 L971.5,110.7 L972.1,109.4 L974.0,109.6 L975.3,109.0 L976.8,108.2 L978.1,109.5 L979.4,110.3 L980.9,110.4 L982.5,109.2 L984.0,109.5 L985.5,109.0 L986.6,111.5 L988.3,110.2 L989.5,111.4 L991.0,111.3 L992.4,111.6 L992.5,111.4"/>
<path d="M959.5,126.7 L958.3,127.6 L957.2,128.6 L956.8,130.0 L955.4,130.5 L954.1,131.1 L952.3,130.2 L951.4,132.1 L951.1,133.2 L950.2,134.4 L949.5,135.6 L949.1,136.4 L949.8,137.7 L950.7,138.9 L950.3,140.9 L949.5,142.0 L948.1,142.8 L948.4,143.3 L949.9,143.7 L951.0,144.7 L951.8,146.1 L953.1,146.7 L953.9,148.2 L955.0,149.2 L956.7,149.2 L958.4,149.6 L958.4,151.6 L959.3,152.8 L960.9,153.2 L960.3,153.8 L959.2,155.1 L957.4,154.4 L956.1,155.0 L954.5,156.2 L953.5,157.3 L954.3,159.3 L952.8,159.8 L951.3,159.5 L949.8,159.5 L948.5,160.6 L948.6,161.0 L947.8,162.6 L949.1,163.8 L948.0,165.5 L949.3,167.1 L948.0,168.3 L948.1,169.5 L949.6,170.2 L949.8,171.8 L950.7,172.9 L951.9,173.8 L952.1,175.6 L953.1,176.7 L954.0,177.7 L956.1,177.9 L957.5,178.6 L957.9,180.2 L959.2,180.9 L959.3,182.8 L961.0,183.0 L962.4,183.6 L963.3,184.7 L964.3,185.8 L965.0,187.4 L966.3,187.9 L966.7,189.4 L965.9,190.8 L967.3,192.3 L967.1,193.7 L965.8,195.0 L965.1,196.4 L966.2,197.4 L967.3,198.3 L967.4,200.1 L968.0,201.5 L970.0,201.7 L970.4,203.1 L971.8,203.6 L973.3,203.9 L973.8,204.6 L975.3,204.6 L976.8,204.8 L977.9,203.7 L979.7,204.2 L981.3,204.4 L982.5,203.5 L983.9,203.7 L983.5,205.6 L984.0,206.9 L985.1,208.6 L983.8,209.5 L982.5,210.5 L981.4,210.7 L980.1,211.4 L979.2,212.9 L978.0,213.6 L977.0,215.3 L979.0,216.3 L978.9,217.8 L980.4,218.6 L979.8,220.6 L980.7,221.8 L982.1,223.0 L982.0,224.5 L981.0,225.8 L980.2,227.1 L980.5,228.9 L979.2,229.7 L977.9,230.4 L978.0,231.5 L976.9,233.2 L977.4,234.5 L976.8,235.2 L977.3,236.6"/>
<path d="M904.9,124.1 L903.3,123.4 L902.0,124.1 L900.5,124.2 L898.8,124.5 L898.2,126.5 L896.6,126.5 L895.0,126.5 L893.6,127.4 L892.9,128.8 L892.3,130.5 L890.6,129.6 L890.3,127.6 L887.9,128.3 L886.9,127.9 L885.6,126.3 L884.1,127.2 L882.6,127.7 L881.6,128.0 L879.6,127.4 L878.9,129.1 L877.6,129.7 L876.1,129.9 L874.6,129.8 L873.4,130.9 L872.2,132.3 L870.6,131.7 L871.2,133.4 L870.8,134.8 L870.2,136.1 L868.9,137.3 L869.8,138.8 L868.9,140.2 L868.8,141.8 L867.8,142.9 L866.9,144.0 L864.8,143.8 L863.4,144.1 L862.8,146.0 L861.5,146.8 L859.3,146.5 L858.8,144.5 L857.2,144.3 L856.1,144.5 L854.7,143.2 L853.2,143.2 L851.8,143.4 L851.3,144.3 L849.6,144.9 L848.8,146.3 L849.2,147.7 L849.9,149.1 L848.3,150.6 L848.3,152.1 L848.6,152.8 L847.0,153.0 L846.7,154.2 L845.1,153.8 L843.6,153.3 L843.2,151.6 L841.9,150.9 L840.5,150.5 L839.6,148.8 L838.2,148.4 L836.1,149.4 L835.7,147.2 L833.5,148.1 L832.9,146.2 L831.3,146.3 L830.2,145.0 L829.0,144.1 L827.2,144.9 L825.7,144.7 L824.5,146.5 L822.8,145.5 L822.2,147.2 L820.6,147.5 L819.5,148.4 L818.3,149.7 L816.4,148.7 L814.8,150.3 L813.6,149.4 L812.2,149.1 L811.3,148.1 L810.6,149.6 L809.9,151.0 L808.8,152.0 L808.0,152.6 L806.7,153.6 L807.0,155.4 L806.9,154.8 L807.3,156.9 L808.6,157.5 L810.4,157.9 L810.9,159.3 L812.1,160.3 L812.3,162.2 L811.8,163.6 L812.1,165.1 L812.0,166.5 L811.2,168.3 L809.9,169.0 L808.4,169.4 L806.8,170.5 L807.1,172.0 L807.4,173.5 L808.3,175.0 L807.8,176.4 L805.9,177.2 L805.1,178.4 L803.3,178.5 L802.0,179.3 L801.8,181.3 L800.7,182.2 L799.6,183.2 L798.0,183.7 L798.8,185.5 L798.2,186.8 L796.4,187.8 L796.9,189.5 L795.0,189.9 L795.1,191.8 L793.5,193.1 L794.7,194.3 L796.0,195.4 L795.4,197.1 L796.5,198.3 L794.4,198.8 L793.5,200.0 L792.9,200.3 L792.4,198.7 L790.8,198.3 L790.0,197.9"/>
<path d="M954.5,236.6 L954.2,235.0 L955.8,234.4 L957.1,233.8 L958.3,232.8 L959.3,231.6 L961.2,232.1 L961.8,232.7 L963.4,232.8 L964.7,233.4 L966.3,233.6 L967.8,233.8 L968.7,235.2 L969.6,236.5 L970.1,236.6"/>
<path d="M455.8,278.4 L454.9,279.9 L456.9,281.2 L457.5,282.5 L455.4,284.3 L456.9,285.9 L456.4,287.2 L454.6,287.8 L454.2,289.3 L452.4,290.0 L453.1,291.9 L451.1,292.6 L451.8,294.5 L450.7,295.6 L449.9,297.3 L450.8,298.6 L450.7,300.1 L451.5,301.4 L453.0,303.1 L450.7,303.4 L450.4,304.9 L450.3,306.5 L449.9,308.0 L448.7,309.2 L449.7,310.3 L449.5,312.0 L450.4,313.2 L450.3,314.1 L451.0,315.7 L450.6,317.1 L450.6,318.5 L451.0,320.4 L448.9,320.3 L448.8,322.3 L447.1,322.6 L445.7,323.3 L447.0,325.5 L448.9,325.7 L448.8,327.8 L450.0,328.7 L451.8,328.9 L452.9,329.2 L453.8,330.7 L455.6,330.3 L456.3,332.7 L457.9,332.3 L459.3,332.6 L460.7,332.4 L462.2,332.7 L463.8,333.0 L465.0,331.4 L466.4,331.6 L467.8,332.2 L469.3,331.7 L470.7,332.4 L472.2,332.1 L473.5,331.5 L475.1,331.6 L476.1,330.9"/>
<path d="M475.3,315.7 L477.0,316.0 L478.0,315.6 L479.4,315.4 L480.7,313.4 L482.2,314.3 L483.7,313.9 L485.1,314.2 L486.7,313.6 L488.1,314.1 L489.4,315.0 L490.9,314.9 L492.2,315.8 L493.1,314.5 L494.5,314.1 L496.4,315.0 L497.5,314.0 L499.0,313.7 L500.5,313.6 L501.5,312.3 L502.6,311.0 L504.3,312.7 L505.8,312.7 L507.2,313.0 L508.6,313.2 L510.6,314.1 L511.4,312.3 L513.0,312.5 L514.0,311.1 L515.5,310.9 L516.8,310.1 L517.1,308.5 L517.5,307.0 L519.1,306.4 L520.7,306.0 L521.7,304.9 L522.6,303.7 L523.8,302.9 L523.8,301.1 L525.3,300.4"/>
<path d="M475.3,315.7 L475.2,317.2 L475.4,318.7 L477.3,319.6 L475.8,320.8 L476.9,322.7 L475.6,323.8 L476.3,325.6 L474.9,326.8 L476.4,328.0 L475.5,329.6 L476.1,330.9"/>
<path d="M487.1,341.1 L488.6,341.4 L489.4,343.1 L490.8,343.5 L492.4,343.6 L491.8,345.5 L492.8,346.7 L494.8,347.3 L493.9,349.5 L496.0,349.8 L496.9,351.5 L495.9,352.6 L494.8,353.7 L494.9,355.4 L494.1,356.4 L494.6,357.8 L496.1,358.6 L497.4,359.7 L498.8,359.5 L500.2,360.0 L501.8,358.7 L503.1,358.9 L504.6,358.9 L505.9,357.9 L507.6,359.6 L509.0,358.8 L510.3,357.3 L511.8,358.2 L513.2,357.7 L514.6,357.0 L514.5,356.5 L515.4,355.2 L514.9,353.6 L515.0,352.8 L513.9,351.7 L512.3,351.4 L513.5,349.6 L511.9,347.9 L512.3,346.4 L514.0,345.6 L513.9,343.7 L515.0,342.7 L516.2,342.1 L517.6,342.2 L519.0,342.6 L520.4,343.0 L521.9,343.0 L523.3,341.9 L524.8,343.5 L526.1,342.8"/>
<path d="M410.0,327.5 L411.5,327.9 L412.8,326.4 L414.2,326.1 L415.7,326.3 L415.8,324.5 L418.0,324.6 L419.0,324.9 L420.5,323.4 L421.9,324.5"/>
<path d="M410.0,344.1 L411.4,344.6 L412.9,344.8 L414.3,345.6 L415.9,344.0 L417.4,343.8 L418.5,345.7 L420.1,345.0 L421.6,345.2 L422.8,346.4 L424.5,345.3 L425.7,347.0 L427.1,346.7 L428.9,346.4 L429.3,348.8 L430.9,348.9 L431.9,350.1 L430.0,351.3 L429.8,352.7 L429.6,353.6 L428.5,354.6 L426.9,354.9 L426.2,357.3 L425.1,355.1 L423.6,355.5 L422.0,356.3 L420.6,355.3 L419.2,355.8 L417.7,355.1 L416.3,354.8 L414.8,355.2 L413.3,356.2 L411.9,355.6 L410.5,355.7 L410.0,355.2"/>
<path d="M426.9,356.3 L428.7,356.4 L429.9,357.1 L430.5,358.9 L432.2,358.9 L433.5,359.9 L434.0,361.4 L434.3,362.7 L433.3,363.8 L431.9,364.3 L430.1,364.1 L431.5,365.8 L432.0,367.2 L432.8,368.4 L432.8,369.6 L434.0,370.4 L433.6,372.9 L435.6,372.9 L434.7,374.8 L436.8,375.8 L435.6,377.6 L436.7,378.8 L436.7,380.2 L436.9,381.7 L438.0,383.0 L438.3,384.4 L437.5,386.0 L437.9,386.6"/>
<path d="M467.4,386.6 L468.0,385.3 L468.0,383.7 L469.4,382.6 L468.5,380.9 L469.2,379.6 L469.3,379.2"/>
<path d="M532.9,362.3 L534.3,362.5 L535.8,362.1 L537.3,361.6 L538.6,363.2 L540.2,362.4 L541.4,362.4 L542.9,362.5 L544.4,362.9 L546.0,363.6 L547.3,362.3 L548.9,363.3 L550.3,363.2 L551.5,361.3 L552.9,360.5 L554.6,360.6 L555.8,362.4 L557.3,362.1 L558.7,363.0 L560.1,363.4 L561.7,362.8 L563.1,362.4 L564.6,361.3 L566.0,361.0 L567.5,362.9 L568.9,362.7 L570.4,362.9 L571.0,362.3"/>
<path d="M706.8,236.0 L707.5,237.7 L707.1,239.1 L705.7,240.3 L704.2,241.0 L704.3,242.9 L704.5,243.6 L704.5,245.0 L703.5,246.7 L704.9,247.4 L705.0,249.4 L706.1,250.3 L708.0,250.5 L708.5,252.1 L709.9,252.2 L711.3,252.4 L712.5,253.9 L714.3,253.7 L714.4,255.2 L712.1,256.3 L712.9,257.9 L713.2,259.4 L712.7,260.8 L712.4,262.2 L711.6,264.2 L713.7,263.9 L714.9,264.6 L715.5,266.2 L716.7,267.1 L717.3,268.7 L718.5,269.5 L719.9,269.9 L720.7,271.3 L719.5,273.0 L720.9,274.8 L722.9,273.1 L723.9,274.9 L725.1,275.8 L726.7,275.7 L728.4,274.9 L729.6,276.4 L729.5,276.7 L730.6,278.3 L729.6,279.6 L730.4,281.2 L730.9,282.4 L730.4,283.9 L730.5,285.4 L730.4,287.0 L729.3,288.1 L728.2,289.2 L727.4,290.4 L726.8,292.5 L727.1,293.9 L727.9,295.2 L728.4,296.4 L727.8,297.8 L726.1,298.3 L725.3,299.6 L725.2,301.1 L726.8,302.4 L726.9,303.8 L725.3,305.5 L726.2,306.9 L726.2,308.3 L727.9,309.5 L727.5,311.0 L726.6,312.7 L727.4,314.0 L728.0,314.8"/>
<path d="M708.5,319.9 L708.4,318.1 L709.3,317.0 L710.2,315.9 L712.2,315.3 L712.2,313.7 L712.9,313.2 L714.6,312.0 L715.8,313.1 L717.1,314.2 L718.7,313.8 L720.1,314.8 L721.5,314.8 L723.0,313.7 L724.7,312.9 L725.8,314.9 L727.5,313.9 L728.6,313.5 L730.2,315.0 L731.7,315.3 L733.2,315.3 L734.4,315.5 L736.0,313.9 L737.5,313.6 L738.9,313.7 L740.9,314.6 L739.5,312.7 L739.8,311.3 L741.9,310.1 L743.3,310.0 L744.8,309.8 L746.5,310.8 L747.9,311.1 L749.1,312.0 L749.3,313.8 L751.5,314.1 L751.1,316.0 L750.5,316.7 L750.2,318.1 L750.6,319.1 L752.1,319.3 L753.4,318.6 L754.5,317.4 L755.8,316.9 L757.1,316.1 L758.5,315.7 L760.2,316.7 L761.4,315.3 L762.7,314.1 L764.3,314.8 L764.9,315.6 L766.3,316.5 L766.6,318.0 L768.5,318.5 L768.4,317.4 L770.3,317.8 L771.7,316.1 L773.0,316.9 L774.4,317.4 L775.9,317.3 L777.4,317.3 L778.9,317.6 L779.7,320.1 L781.2,320.2 L782.9,320.9 L784.2,319.7 L785.7,320.5 L787.2,320.2 L788.4,319.5 L789.8,319.6 L790.6,319.7"/>
<path d="M589.8,383.5 L591.1,384.3 L592.3,385.0 L593.4,386.1 L595.1,385.6 L596.4,386.6 L597.7,387.4 L599.1,387.8 L600.3,385.9 L602.0,385.9 L603.2,385.1 L604.3,384.0 L604.9,384.6 L606.6,384.6 L608.0,385.1 L608.7,386.8 L610.2,387.0 L611.9,387.1 L613.2,387.7 L613.9,387.9 L613.9,386.2 L615.7,385.6 L616.8,384.6 L617.4,383.3 L618.8,384.3 L620.3,384.5 L621.7,383.7 L622.6,383.9 L624.4,384.6 L625.3,385.8 L624.0,388.0 L625.9,388.2 L627.4,388.2 L628.5,390.0 L630.2,389.9 L631.3,388.1 L632.8,388.1 L634.0,387.5 L635.4,387.0 L636.6,386.0 L638.3,386.6 L639.5,385.7 L641.0,385.4 L642.9,384.6 L644.2,385.3 L645.5,386.0 L646.1,388.4 L647.5,388.1 L648.8,387.4 L650.1,386.1 L651.4,385.8 L652.8,385.3 L654.2,386.0"/>
<path d="M790.0,319.9 L791.2,319.0 L792.4,318.2 L793.9,317.8 L795.1,317.0 L796.1,316.3 L796.8,314.5 L798.7,315.0 L799.5,313.4 L800.5,312.3 L801.4,311.1 L803.2,311.0 L804.0,309.6 L805.0,309.0 L806.5,308.3 L807.7,307.4 L808.6,306.2 L808.1,304.1 L808.5,303.2 L809.2,301.9 L810.2,300.6 L810.9,300.3 L812.3,300.0 L813.8,300.1 L815.1,299.1 L816.1,297.8 L815.8,296.2 L816.2,294.8 L816.9,292.9 L818.5,293.1 L820.0,292.8 L821.3,292.2 L822.7,292.1 L824.0,292.6 L825.5,292.7 L826.9,294.2 L828.2,293.5 L829.7,293.6 L830.6,293.6 L832.5,293.2 L834.0,293.4 L835.1,294.3 L835.6,296.3 L836.9,297.0 L838.6,297.0 L839.4,298.5 L841.1,298.5 L841.7,300.3 L843.8,299.7 L844.3,301.6 L845.1,303.0 L846.9,301.3 L848.0,300.4 L848.7,298.9 L850.5,298.6 L851.9,298.2 L853.3,298.0 L854.6,297.1 L856.3,297.3 L857.7,296.9 L859.2,297.8 L860.6,297.6 L862.2,297.4 L863.3,299.3 L865.0,298.3 L865.4,298.7"/>
<path d="M865.4,298.7 L866.4,297.7 L867.7,296.8 L868.6,295.7 L869.8,294.6 L869.4,292.7 L871.4,292.2 L871.5,290.6 L872.2,289.1 L872.5,287.7 L873.1,286.3 L871.9,284.7 L872.2,283.2 L873.3,282.0 L873.6,281.0 L875.0,280.8 L876.1,279.4 L878.4,279.1 L876.4,277.4 L878.1,276.1 L877.5,274.6 L876.8,273.1 L878.4,271.8 L876.7,270.8 L876.4,269.3 L876.1,267.9 L876.6,266.0 L877.6,265.0 L879.1,263.7 L880.9,265.2 L882.0,263.3 L884.1,263.6 L885.3,264.5 L884.9,266.9 L886.4,267.5 L887.5,268.7 L888.6,269.7 L890.4,269.4 L891.8,269.7 L893.2,270.1 L894.7,270.3 L895.8,271.4 L897.0,272.8 L898.6,272.2 L899.9,273.0 L901.8,272.2 L902.8,271.1 L903.5,269.8 L904.5,268.9 L905.5,267.4 L907.1,267.5 L908.8,268.1 L909.8,266.7 L911.3,266.5 L912.2,265.0 L913.8,264.9 L914.8,263.6 L916.6,264.1 L918.0,263.7 L918.6,261.4 L920.5,262.1 L921.1,260.5 L923.4,261.2 L923.6,259.0 L924.6,257.9 L926.9,258.5 L927.6,257.6 L929.2,256.4 L930.5,257.5 L931.8,258.7 L933.5,257.7 L934.4,259.4 L936.1,259.1 L937.0,259.1 L938.0,258.0 L938.4,256.4 L939.6,256.0 L940.0,254.6 L940.3,253.1 L940.1,251.7 L939.2,250.2 L940.0,248.8 L939.2,247.4 L940.3,245.8 L938.3,244.6 L940.7,244.5 L941.5,242.5 L943.2,242.9 L944.6,242.4 L946.1,242.6 L947.5,243.2 L949.0,243.5 L949.8,241.7 L952.0,242.6 L953.1,241.5 L953.6,239.7 L955.2,239.4 L956.1,238.2 L955.7,236.4 L956.1,236.0"/>
<path d="M865.4,298.7 L866.6,299.7 L866.1,301.7 L866.8,303.0 L867.7,304.2 L868.6,305.2 L869.1,306.5 L871.6,306.9 L871.1,308.8 L872.2,310.0 L871.5,311.6 L872.5,312.9 L872.6,314.3 L872.9,315.7 L873.1,317.2 L872.7,318.7 L872.5,320.2 L874.1,321.4 L872.8,322.6 L871.9,323.8 L872.5,325.6 L873.3,326.8 L872.7,328.3 L872.1,329.8 L872.5,331.2 L873.3,332.7 L872.1,334.1 L872.9,335.6 L871.6,337.0 L873.1,338.5 L872.2,339.9 L872.6,341.4 L871.2,342.8 L873.0,344.3 L871.4,345.7 L872.4,347.2 L872.5,348.7 L872.7,350.3 L871.7,351.5 L870.2,352.5 L869.4,353.8 L869.2,355.4 L869.7,357.0 L870.4,358.6 L869.5,359.9 L868.1,360.3 L867.4,361.8 L865.3,361.3 L865.2,363.8 L863.9,364.4 L862.7,365.3 L861.6,366.2 L860.5,367.2 L859.1,367.7 L857.8,368.3 L855.8,368.0 L855.7,370.1 L855.4,371.5 L855.9,373.1 L856.1,374.6 L854.8,375.8 L853.7,376.9 L854.4,378.8 L852.7,379.6 L852.1,381.2 L850.4,381.0 L849.4,382.3 L848.5,383.5 L846.6,384.4 L845.4,382.6 L843.9,382.8 L842.3,383.7 L840.7,383.1 L841.8,384.8 L841.7,386.2 L841.0,386.6"/>
<path d="M967.1,236.0 L967.8,237.3 L969.8,237.4 L970.1,239.2 L970.2,240.7 L970.8,242.0 L972.1,242.9 L972.6,244.3 L974.1,244.0 L975.6,244.0 L976.8,242.8 L977.4,242.4 L977.1,241.0 L976.1,239.7 L976.9,238.4 L977.8,239.8 L979.4,239.9 L980.2,241.6 L980.8,242.1 L981.8,243.2 L984.1,243.4 L985.1,244.5 L985.5,246.1 L985.8,247.6 L985.5,249.2 L985.6,250.7 L986.0,251.5 L984.9,252.4 L984.0,253.6 L984.3,254.8 L983.3,256.2 L983.9,257.7 L983.5,259.1 L984.7,259.8 L984.3,261.8 L984.5,263.4 L986.9,263.6 L986.6,265.4 L988.0,266.7 L987.5,268.2 L988.1,269.6 L986.6,271.2 L986.7,272.5 L986.2,273.9 L987.5,275.5 L986.3,276.8 L986.1,278.2 L987.5,279.5 L987.8,281.1 L989.2,281.8 L990.8,282.3 L990.8,283.1"/>
<path d="M940.0,295.3 L941.5,295.2 L942.8,294.6 L943.0,296.2 L944.9,297.8 L942.9,297.8 L942.3,299.3 L941.4,298.8 L939.7,298.2 L939.6,296.4 L940.0,295.3"/>
<path d="M947.6,300.4 L948.9,301.4 L949.2,302.8 L949.6,304.7 L948.5,305.6 L948.0,306.3 L949.4,305.8 L950.3,304.4 L951.7,303.9 L952.3,302.9 L954.3,302.4 L954.1,300.6 L956.0,300.1 L956.5,300.7 L957.2,302.0 L956.9,302.8 L958.3,303.1 L959.6,304.1 L961.0,304.7 L962.3,304.7 L963.8,305.0 L964.5,306.6 L966.0,307.0 L967.2,308.1 L967.5,309.5 L968.7,310.6 L967.7,312.6 L969.7,313.0 L970.3,314.3 L969.0,316.1 L968.7,317.0 L967.3,316.7 L965.9,316.3 L965.4,316.5"/>
<path d="M908.6,348.7 L909.2,347.4 L910.7,346.5 L909.7,344.4 L911.1,343.0 L913.0,344.1 L914.2,343.1 L915.2,341.4 L916.5,341.2 L918.4,341.4 L919.0,339.8 L920.9,339.6 L919.7,341.7 L921.7,342.4 L921.8,344.0 L923.2,344.2 L924.7,344.1 L925.9,345.5 L927.7,344.8 L928.1,346.4 L929.9,346.7 L930.9,348.3 L931.2,346.1 L932.6,345.7 L933.9,344.8 L934.8,343.6 L933.1,341.9 L934.5,340.2 L934.3,338.7 L932.9,337.9 L931.8,336.5 L930.1,337.1 L928.2,336.3 L927.6,334.9 L927.4,333.5 L928.0,331.7 L928.0,330.7 L929.8,330.3 L930.6,329.0 L931.3,328.2 L932.6,328.9 L934.2,328.5 L935.3,330.0 L936.4,330.9 L937.6,331.7 L939.5,331.7 L939.1,331.5 L937.8,330.2 L939.2,328.5 L938.4,327.2 L938.1,325.5 L940.5,324.9 L940.5,324.3 L941.3,322.4 L943.2,323.1 L944.0,321.2 L944.2,321.6"/>
<path d="M959.5,324.1 L959.0,325.5 L958.6,327.0 L958.0,328.3 L955.7,328.3 L955.1,329.8 L954.0,330.7 L953.3,332.1 L953.4,333.6 L952.4,334.9 L952.3,336.2 L951.0,337.1 L950.3,338.4 L949.3,339.8 L949.9,341.4 L950.5,342.9 L950.4,344.4 L949.3,345.3"/>
<path d="M940.8,364.0 L940.7,365.4 L942.3,366.7 L942.1,368.2 L942.4,369.6 L942.2,371.1 L943.3,372.1 L944.9,373.3 L946.1,371.3 L947.6,371.7 L949.0,370.7 L950.5,370.9 L951.6,372.4 L953.2,373.1 L953.7,374.5 L953.6,376.3 L954.8,377.2 L956.3,377.7 L956.8,379.3 L958.4,378.6 L957.9,376.3 L960.2,376.3 L961.0,375.1 L961.6,373.6 L962.6,372.5 L964.7,373.5 L965.5,371.7 L967.3,370.9 L968.6,371.4 L969.3,373.6 L970.4,373.8 L970.5,375.4 L971.2,376.7 L972.4,377.8 L973.1,379.4 L975.0,379.0 L976.1,380.0 L977.1,381.3 L978.6,381.5 L979.6,382.7 L981.2,382.8 L982.4,383.6 L984.4,382.9 L985.6,383.8 L986.8,384.6 L988.0,384.1 L989.4,384.4 L990.8,385.2"/>
<path d="M944.2,372.4 L945.1,374.0 L943.5,375.3 L944.4,376.9 L943.6,378.2 L942.6,379.4 L941.8,380.7 L942.0,382.3 L941.4,383.6 L942.0,385.4 L939.9,386.0 L938.7,386.8 L938.4,386.6"/>
<path d="M438.8,386.0 L439.7,387.2 L440.0,388.6 L440.0,390.3 L442.0,390.9 L442.7,392.2 L443.8,393.3 L442.2,395.4 L440.8,395.4 L439.4,394.9 L438.1,393.8 L436.0,393.2 L435.3,394.6 L434.9,396.2 L433.9,397.2 L432.4,397.8 L431.9,399.4 L431.4,400.9 L429.1,400.6 L428.3,401.9 L428.2,403.8 L427.8,404.7 L427.3,406.1 L424.9,406.8 L426.2,408.8 L425.3,408.9"/>
<path d="M443.1,394.5 L444.3,393.6 L445.8,393.6 L447.0,392.3 L448.5,392.4 L449.8,391.5 L451.1,390.9 L452.7,391.2 L454.0,390.5 L455.5,390.6 L455.8,391.1"/>
<path d="M465.9,386.0 L464.8,387.3 L465.6,388.9 L465.0,390.3 L464.3,391.8 L465.9,393.1 L465.5,394.6 L465.5,396.1 L464.8,397.6 L465.9,397.9"/>
<path d="M484.6,404.6 L484.1,406.1 L483.3,407.2 L482.4,408.4 L481.7,409.8 L480.4,410.5 L479.6,411.7 L479.8,413.4 L478.4,414.3 L477.8,414.8"/>
<path d="M543.9,405.5 L542.7,406.3 L542.2,408.0 L540.3,408.0 L539.7,409.5 L537.8,409.1 L537.1,411.1 L535.3,410.6 L534.5,412.4 L532.5,411.3 L531.2,411.9 L530.5,414.1 L528.8,413.6 L528.1,415.2 L526.5,415.6 L524.9,415.8 L526.7,416.9 L527.7,417.9 L529.0,418.7 L530.1,419.7 L530.4,421.5 L531.5,421.7 L533.0,421.8 L534.2,423.3 L535.7,422.7 L537.2,423.6 L538.2,424.6 L538.4,426.5 L540.2,427.0 L539.7,428.5 L539.3,430.1 L540.0,431.0 L539.4,432.5 L538.5,433.7 L536.6,433.7 L536.2,435.4 L534.9,436.1 L533.1,437.2 L533.5,438.5 L535.1,439.5 L535.5,441.0 L536.2,442.0 L537.1,443.1 L537.6,444.6 L539.2,445.2 L540.1,446.4 L540.8,447.7 L541.2,449.2 L541.5,450.7 L542.8,451.5 L543.5,452.8 L543.8,454.4 L544.1,455.4 L545.2,456.7 L544.4,458.3 L546.5,459.5 L545.3,461.0 L544.3,462.1 L544.2,463.7 L542.9,464.4 L541.6,465.2 L539.9,464.4 L538.8,465.3"/>
<path d="M538.8,465.3 L537.3,466.2 L535.9,465.4 L534.4,465.9 L533.1,464.4 L531.6,464.7 L530.0,465.6 L528.6,465.6 L527.3,463.8 L525.7,464.8 L524.4,463.4 L523.0,463.5 L521.5,463.7 L520.0,462.8 L518.6,463.5 L517.1,463.7 L515.7,464.3 L514.3,464.8 L514.1,465.1 L513.0,466.3 L512.5,467.7 L511.2,468.7 L511.7,470.5 L511.1,471.8 L509.4,472.7 L509.6,474.4 L509.6,475.9 L509.5,477.3 L509.0,478.8 L510.6,480.2 L509.1,481.4 L509.9,483.3 L509.0,484.5 L507.6,485.4 L507.0,486.9 L505.7,487.5 L504.9,488.9 L503.8,489.8 L502.5,490.4 L501.1,491.1 L499.9,492.0 L499.8,493.6 L500.1,495.1 L498.8,496.5 L499.9,497.1 L498.3,497.4 L496.9,497.3 L495.3,497.9 L494.2,497.9 L492.8,498.5 L491.0,496.8 L491.0,496.8 L488.8,496.2 L489.5,494.3 L488.2,493.6 L487.3,492.3 L485.8,491.9 L484.4,491.5 L483.0,491.9 L481.6,491.6 L480.3,490.8 L478.9,489.9 L477.7,491.1 L476.2,491.1 L474.4,490.5 L474.4,492.2 L473.6,493.6 L472.3,494.9 L472.5,496.3 L471.6,497.7 L472.1,499.2 L471.9,500.6 L472.6,502.2 L471.3,503.3 L469.8,503.2 L468.3,502.6 L466.9,503.2 L465.5,504.0 L464.2,502.7 L462.7,503.0 L461.3,502.6 L459.7,503.7 L458.1,503.2 L457.1,501.9 L455.6,501.7 L454.5,502.0 L452.7,500.9 L451.2,501.0 L450.0,502.0 L448.4,501.8 L448.6,502.9"/>
<path d="M538.8,465.3 L539.0,466.8 L539.8,468.1 L539.2,469.7 L539.9,471.4 L538.7,472.2 L536.8,472.6 L537.4,474.9 L537.1,475.3 L537.1,477.0 L538.9,477.6 L539.5,478.6 L539.6,480.7 L540.3,482.1 L542.4,481.8 L543.8,482.4 L542.6,483.5 L543.0,485.5 L541.8,486.5 L541.1,487.8 L540.8,489.2 L539.9,490.5 L539.4,491.9 L539.8,493.4 L539.3,494.8 L539.0,496.2 L539.9,497.9 L541.3,498.5 L541.8,499.0 L542.9,498.0 L545.0,498.1 L545.8,496.8 L546.9,495.7 L547.7,497.8 L549.5,497.0 L550.5,498.2 L551.9,498.8 L553.3,499.4 L554.6,500.1 L555.1,501.7 L556.5,502.1 L557.8,503.1 L559.1,503.7 L560.3,504.5 L561.8,505.0 L563.3,504.8 L563.0,505.0 L563.8,506.6 L562.8,507.9 L562.6,509.4 L562.7,511.1 L564.5,512.3 L563.8,513.8 L564.0,515.3 L565.1,516.1 L565.5,517.7 L566.0,519.1 L567.7,519.6 L568.6,520.8 L568.5,522.6 L569.7,523.4 L569.8,525.4 L571.0,526.3 L571.9,525.8"/>
<path d="M571.9,525.8 L572.1,524.3 L573.3,523.3 L573.3,521.7 L575.3,521.1 L575.4,519.2 L577.0,519.2 L578.7,519.5 L579.6,517.9 L581.4,518.5 L582.1,518.4 L583.7,518.4 L585.0,519.0 L586.2,519.4 L587.7,520.0 L587.7,522.1 L589.6,522.2 L590.7,523.7 L592.2,523.7 L593.9,521.9 L595.3,522.5 L596.5,523.1 L598.0,522.5 L597.8,520.5 L599.4,519.9 L600.4,518.9 L600.6,519.2"/>
<path d="M571.9,525.8 L571.6,527.7 L574.2,527.8 L573.7,529.8 L575.1,530.5 L575.7,532.2 L577.6,532.1 L578.2,533.8 L580.4,533.5 L579.7,535.7 L581.5,536.3 L581.6,536.6"/>
<path d="M549.8,389.4 L549.1,390.7 L548.0,391.8 L548.5,393.5 L547.8,395.0 L547.5,396.6 L548.8,397.8 L549.0,397.9"/>
<path d="M576.9,433.5 L578.5,432.7 L577.8,430.6 L579.2,429.8 L580.3,428.9 L582.0,429.5 L583.0,427.9 L584.4,427.4 L585.7,428.2 L587.2,428.3 L588.1,430.0 L588.3,430.6 L589.2,431.8 L591.2,432.6 L589.1,433.5 L588.9,435.2 L588.0,436.3 L587.0,436.9 L585.6,437.2 L584.0,436.5 L582.6,438.0 L581.0,437.9 L580.4,435.5 L578.5,436.4 L577.4,435.1 L576.9,433.7 L576.9,433.5"/>
<path d="M590.7,435.7 L590.2,437.8 L589.3,436.1 L587.3,435.3 L589.0,434.9 L589.6,435.3 L590.5,435.0"/>
<path d="M790.6,444.6 L788.8,444.9 L788.5,446.6 L787.8,447.9 L786.8,448.9 L785.4,449.6 L784.0,450.4 L784.1,452.4 L783.7,453.8 L782.5,454.8 L782.6,456.3 L780.9,457.1 L779.4,458.1 L780.5,460.1 L778.8,460.2 L777.7,461.7 L776.3,461.4"/>
<path d="M724.6,482.6 L722.9,483.2 L721.9,481.6 L720.1,482.3 L719.1,480.7 L718.9,478.8 L716.9,478.8 L716.9,476.8 L715.7,476.1 L715.4,474.6 L713.0,474.3 L713.4,472.3 L712.2,471.4 L711.5,470.1 L710.0,470.0 L708.8,468.4 L707.3,468.8 L705.6,468.6 L704.2,469.1 L703.0,469.9 L701.4,469.8 L700.4,470.2 L699.0,469.8 L697.3,470.1 L696.3,468.7 L694.6,469.0 L693.7,468.9 L692.6,469.9 L691.0,470.1 L690.0,471.2 L688.9,472.2 L687.4,472.4 L686.3,473.5 L684.5,472.2 L683.1,472.6 L681.8,473.9 L680.5,474.7 L679.1,473.6 L678.8,472.1 L677.7,471.1 L677.4,468.9 L675.3,470.2 L674.1,469.2 L673.0,468.2 L671.3,468.9 L670.1,467.7 L668.8,467.1 L667.8,467.7 L665.7,467.7 L665.7,469.7 L665.7,470.8 L665.4,472.4 L666.3,473.7 L666.1,475.2 L666.2,477.0 L665.6,478.3 L663.5,478.5 L663.3,480.2 L663.1,481.5 L662.3,482.8 L661.4,484.0 L662.2,484.8 L661.8,486.6 L662.2,488.0 L662.4,489.6 L663.1,490.8 L661.7,491.2 L660.0,491.1 L658.7,491.1 L657.5,492.7 L655.9,491.5 L654.6,493.5 L653.1,492.7 L651.4,493.6 L650.0,493.0 L649.0,491.4 L647.4,491.5 L646.3,490.1 L645.0,489.5 L643.3,490.3 L642.4,491.4 L642.0,492.8 L641.7,494.3 L640.2,495.2 L638.4,495.2 L637.7,496.6 L636.0,496.7 L635.8,498.8 L634.9,500.0 L632.5,499.5 L632.5,501.7 L631.8,503.0 L629.5,502.9 L628.7,504.1 L627.6,505.0 L626.7,506.2 L626.3,508.1 L624.7,507.3 L623.3,507.2 L621.9,508.2 L620.4,507.6 L619.0,508.2 L617.5,508.4 L616.1,508.0"/>
<path d="M654.2,386.0 L653.9,387.4 L654.5,389.0 L653.4,390.3 L652.4,391.6 L654.2,393.5 L652.9,394.6 L652.6,396.0 L652.2,397.4 L650.4,398.3 L649.6,399.7 L649.6,401.2 L650.1,402.8 L649.6,404.5 L651.8,405.2 L651.6,406.8 L652.1,408.2 L653.4,409.2 L652.7,411.0 L653.2,412.4 L653.4,413.8 L654.2,415.2 L653.0,416.6 L653.5,418.4 L653.2,419.9 L650.9,420.4 L651.3,422.2 L650.5,423.5 L649.9,424.8 L649.6,426.3 L649.0,427.6 L650.9,429.0 L650.7,430.6 L651.8,431.8 L650.8,433.5 L652.2,434.7 L652.9,435.7 L653.8,436.8 L653.7,438.6 L653.4,439.4 L651.8,439.9 L651.1,441.3 L650.1,442.3 L648.9,442.9 L648.0,444.3 L646.8,445.0 L645.8,446.1 L644.8,447.1 L643.7,446.6 L642.2,446.1 L640.9,445.9 L639.7,446.9 L640.6,448.5 L638.9,449.8 L639.5,451.3 L639.2,452.9 L637.7,452.2 L636.3,452.7 L634.6,452.9 L635.0,454.8 L634.3,454.4 L633.3,453.3 L631.0,453.4 L630.4,452.2 L628.6,452.5 L627.9,452.8 L626.5,452.8 L624.3,452.9 L624.4,450.4 L622.7,450.2 L621.5,451.1 L620.2,451.9 L620.0,453.7 L618.7,454.5 L617.3,455.0 L616.3,456.1 L615.6,457.6 L615.1,457.5"/>
<path d="M602.2,471.8 L603.5,472.7 L603.2,474.9 L604.2,476.0 L606.7,475.2 L607.2,477.1 L608.7,477.4 L610.3,477.3 L612.5,476.2 L611.6,478.3 L613.2,478.6 L614.5,479.7 L616.1,479.2 L617.6,478.9 L617.7,479.1 L619.2,479.9 L618.7,481.5 L618.1,483.0 L618.3,484.5 L618.4,486.0 L620.5,487.2 L619.5,488.5 L618.2,489.4 L618.4,491.3 L618.2,492.9 L616.3,493.5 L616.4,495.0 L615.2,496.3 L616.5,498.1 L616.5,499.6 L615.0,500.6 L613.8,501.7 L613.6,503.2 L614.3,504.1 L614.8,505.6 L616.1,506.4 L616.4,508.2 L615.3,509.6 L615.8,511.1 L615.5,512.5 L616.0,514.0 L615.0,515.3 L613.2,515.9 L613.4,517.8 L612.9,519.2 L611.5,519.5 L610.0,519.2 L608.9,521.4 L607.3,520.4 L606.0,520.2 L604.7,519.7 L603.2,519.4 L602.0,518.5 L600.8,517.6 L600.0,518.2"/>
<path d="M684.7,406.3 L686.1,405.7 L687.6,406.0 L688.9,405.1 L689.8,406.4 L691.3,407.0 L692.6,407.7 L694.1,409.2 L694.7,407.9 L695.6,406.7 L696.0,405.2 L695.8,404.6"/>
<path d="M602.2,471.8 L603.6,471.5 L605.1,471.4 L606.6,471.8 L608.0,470.8 L609.4,471.2 L610.5,472.5 L612.0,472.6 L613.4,472.3 L614.8,472.2 L616.2,471.8 L617.6,471.2 L619.2,471.9 L620.7,472.4 L622.1,471.7 L623.5,471.3 L624.8,470.3 L624.9,469.4 L625.1,469.2"/>
<path d="M842.5,386.0 L841.1,387.0 L842.2,389.0 L840.0,389.7 L841.0,391.6 L840.0,392.9 L838.4,392.1 L837.2,393.4 L835.7,393.4 L834.4,394.4 L833.0,392.4 L831.6,392.0 L829.9,393.6 L828.1,393.3 L827.3,391.9 L826.2,390.9 L825.3,389.6 L823.7,389.7 L822.3,389.0 L820.8,389.7 L819.3,389.5 L817.9,389.6 L816.7,389.1 L815.3,389.5 L813.9,390.0 L812.3,389.8 L811.9,391.9 L811.2,393.2 L810.3,394.3 L808.4,395.2 L809.4,397.0 L809.2,398.4 L808.5,399.7 L807.4,400.9 L808.8,402.2 L809.7,403.3 L809.2,405.2 L810.1,406.4 L809.7,407.6 L810.5,409.4 L809.7,410.6 L809.5,412.1 L808.5,413.3 L806.7,414.2 L806.0,415.5 L805.7,416.7 L806.0,418.5 L804.9,419.6 L803.4,420.7 L804.3,422.4 L803.9,423.8 L803.6,424.1"/>
<path d="M803.6,424.1 L802.8,425.3 L802.1,426.7 L800.1,427.0 L799.9,428.6 L799.6,430.3 L797.5,430.3 L797.5,432.4 L797.3,433.3 L797.4,434.7 L795.9,436.0 L794.9,437.0 L794.7,438.5 L794.9,440.2 L793.1,440.9 L792.3,441.6 L791.9,443.5 L790.9,444.5 L790.0,444.5"/>
<path d="M803.6,424.1 L805.0,424.1 L806.5,424.4 L807.9,423.9 L808.9,425.3 L811.0,424.0 L811.6,426.5 L813.1,426.7 L813.9,427.0 L814.4,428.4 L816.3,429.2 L815.7,431.0 L816.5,432.2 L818.1,432.1 L819.2,433.9 L820.8,433.5 L822.0,434.4 L823.8,433.3 L825.1,434.2 L825.8,432.2 L827.1,431.7 L828.5,431.2 L831.1,431.5 L830.8,433.4 L832.2,434.2 L833.2,435.3 L832.8,437.4 L833.6,438.6 L835.1,439.2 L836.4,440.1 L836.3,442.0 L837.4,443.0 L838.5,444.0 L839.4,445.2 L840.0,446.5 L840.5,447.9 L841.7,449.0 L842.5,450.3 L841.9,452.0 L842.7,453.3 L843.5,454.6 L843.5,455.9 L843.2,457.7 L843.5,459.2 L845.8,459.6 L844.9,461.7 L846.5,462.2 L847.2,463.9 L848.3,464.9 L850.3,464.4 L851.4,465.3 L852.9,465.4 L854.4,464.8 L855.6,466.6 L857.0,466.5 L858.2,467.5 L860.2,466.3 L861.7,467.0 L861.6,469.1 L863.6,469.2 L864.6,470.3 L864.6,470.7"/>
<path d="M864.6,470.7 L865.9,470.1 L867.2,469.3 L868.9,470.1 L869.9,468.7 L871.0,467.8 L872.1,466.8 L872.8,465.4 L874.3,464.8 L875.8,464.3 L875.5,461.9 L877.2,461.6 L877.7,460.2 L879.3,459.6 L880.3,458.5 L880.2,456.5 L881.1,455.4 L883.0,455.3 L884.6,456.0 L886.0,455.7 L887.5,455.5 L887.9,453.2 L889.1,452.4 L890.5,451.7 L891.3,450.4 L892.5,449.4 L894.4,450.3 L895.6,449.3 L895.9,448.7"/>
<path d="M895.9,448.7 L896.2,447.0 L897.8,446.5 L898.6,445.2 L899.9,444.5 L898.9,444.0 L898.8,442.0 L897.4,441.4 L896.6,440.1 L896.6,438.9 L895.2,437.8 L894.6,436.5 L893.7,434.5 L895.7,434.5 L895.6,432.4 L897.1,431.7 L897.8,430.4 L899.7,430.2 L900.2,428.7 L901.1,427.6 L902.0,426.5 L903.0,425.2 L903.7,423.8 L902.8,422.1 L904.5,421.9 L905.4,420.6 L904.6,418.9 L903.7,417.6 L901.6,418.4 L900.4,417.5 L899.4,416.4 L898.0,415.9 L898.3,414.5 L899.7,414.1 L901.3,415.7 L902.8,415.8 L904.5,415.2 L905.7,414.4 L906.7,413.0 L907.9,412.1 L909.4,411.9 L910.7,410.8 L912.2,410.7 L913.7,411.4 L914.5,410.8 L915.4,409.5 L915.5,408.2 L916.8,407.0 L918.4,408.5 L919.8,407.5 L921.2,407.4 L922.6,407.0 L924.2,406.9 L925.5,408.3 L926.9,408.7 L928.5,407.0 L929.8,408.7 L931.2,408.8 L933.3,407.9 L932.4,406.1 L934.1,405.1 L933.9,403.5 L933.2,402.1 L931.6,401.3 L931.9,399.6 L930.7,398.3 L930.6,396.9 L931.8,395.2 L930.4,394.0 L931.7,392.8 L931.3,391.1 L931.1,389.5 L932.5,388.2 L934.0,387.7 L935.4,387.6 L936.9,388.9 L938.4,388.4 L938.9,386.6 L940.8,386.7 L940.8,386.0"/>
<path d="M895.9,448.7 L897.5,449.4 L897.0,451.5 L897.2,453.0 L899.3,453.1 L900.5,454.5 L902.1,453.8 L903.5,454.5 L904.7,455.6 L906.5,454.8 L908.0,455.3 L909.0,456.4 L910.3,457.4 L910.5,459.1 L911.9,459.8 L912.7,460.6 L913.7,461.9 L914.7,462.9 L915.3,464.6 L917.6,463.8 L918.4,464.6 L920.0,464.7 L921.3,463.9 L922.6,463.5 L923.7,464.5 L924.2,465.9 L925.8,466.5 L925.4,469.2 L926.8,469.6 L928.1,470.3 L929.5,470.7 L930.9,472.0 L932.5,470.8 L934.1,470.1 L935.4,470.9 L936.8,471.3 L938.1,472.4 L939.9,470.9 L941.0,472.9 L942.6,472.2 L943.4,470.8 L945.3,471.4 L946.9,471.6 L948.0,470.5 L949.1,470.7 L950.7,470.4 L952.1,470.5 L953.7,470.0 L954.7,472.2 L955.3,472.7 L956.7,473.8 L957.0,475.2 L956.6,476.8 L956.5,478.3 L956.7,480.1 L958.4,480.7 L959.0,482.0 L960.1,483.3 L961.8,482.3 L962.7,484.6 L964.4,483.8 L964.7,485.2 L965.6,486.4 L967.1,486.8"/>
<path d="M967.1,486.8 L968.7,487.0 L970.2,487.1 L971.5,486.3 L973.0,486.2 L974.3,484.5 L975.5,485.7 L977.0,485.7 L978.7,485.7 L979.0,487.7 L980.8,487.7 L981.1,489.7 L983.1,489.5 L984.2,490.4 L985.3,491.6 L987.2,491.0 L987.3,488.7 L989.3,489.0 L989.7,487.1 L990.8,487.4"/>
<path d="M967.1,486.8 L966.3,488.1 L967.2,489.9 L966.8,491.3 L965.4,492.4 L966.2,493.7 L965.4,495.5 L966.1,496.8 L966.5,498.2 L967.9,499.2 L967.0,500.4 L967.1,502.0 L966.2,503.2 L967.0,504.9 L966.2,506.2 L965.6,507.5 L964.8,508.7 L964.0,510.0 L963.1,511.1 L962.8,512.7 L963.5,512.8 L964.0,514.3 L964.0,516.0 L964.8,517.2 L965.7,518.5 L966.7,519.5 L967.6,520.7 L969.8,520.5 L970.4,522.1 L970.7,523.6 L972.6,524.1 L971.9,526.3 L972.5,527.2 L973.5,528.6 L974.6,529.9 L974.7,531.4 L975.0,532.8 L973.3,534.5 L972.0,535.0 L970.7,535.7 L969.1,535.6 L967.5,535.7 L967.2,536.6"/>
<path d="M864.6,470.7 L863.4,472.0 L864.5,473.7 L864.0,475.1 L864.8,475.9 L863.9,478.2 L866.2,478.5 L866.1,480.4 L867.4,481.1 L868.4,482.2 L870.0,482.4 L871.3,483.1 L871.2,484.7 L871.3,486.3 L870.3,487.5 L868.9,488.6 L867.2,487.9 L866.0,489.0 L864.9,490.3 L863.6,491.0 L862.0,490.8 L860.1,489.7 L859.7,492.2 L858.0,492.2 L856.3,492.3 L855.8,494.2 L854.2,494.6 L853.3,495.8 L852.9,497.2 L854.8,498.2 L854.4,500.4 L856.5,500.6 L856.4,502.5 L857.8,503.5 L859.3,503.7 L860.3,504.8 L860.9,505.7 L861.5,507.0 L863.2,507.8 L861.3,508.7 L861.1,510.3 L860.9,511.9 L861.1,513.2 L859.3,514.4 L858.6,515.8 L858.6,517.2 L858.7,518.4 L857.8,519.5 L857.5,521.1 L857.5,522.5 L855.4,523.4 L855.1,524.8 L855.2,526.4 L855.7,528.1 L857.8,527.5 L857.8,528.4"/>
<path d="M857.8,528.4 L859.3,528.4 L860.5,529.5 L862.3,528.7 L863.8,530.7 L865.0,529.9 L866.4,529.5 L866.8,527.3 L867.9,526.3 L869.5,525.4 L871.0,525.5 L872.4,525.0 L874.0,526.3 L875.1,525.2 L876.9,525.1 L878.0,524.2 L878.8,522.9 L880.2,522.1 L881.7,522.1 L883.7,522.9 L882.8,524.7 L884.1,525.8 L884.7,527.2 L883.3,528.9 L884.4,530.2 L883.6,531.8 L883.6,533.3 L886.0,534.0 L887.4,532.9 L888.9,532.6 L890.1,532.7 L891.9,533.4 L893.1,532.6 L894.4,531.7 L895.6,530.6 L897.1,530.8 L898.5,530.5 L899.6,529.3 L901.1,529.1 L902.5,528.7 L903.9,528.4 L905.4,528.0 L906.8,527.7 L908.4,527.7 L909.5,526.9 L911.0,527.3 L911.9,528.5 L913.1,529.3 L913.4,531.1 L914.4,532.2 L915.5,533.2 L916.8,534.1 L916.9,535.9 L918.2,536.4 L919.6,536.6"/>
<path d="M857.8,528.4 L858.0,530.1 L856.4,530.9 L854.8,531.7 L855.3,533.7 L854.0,534.4 L853.1,535.6 L851.5,535.9 L851.5,536.6"/>
<path d="M990.8,389.4 L990.0,390.7 L988.6,391.2 L987.4,392.0 L986.8,393.1 L986.8,394.6 L987.3,396.0 L987.7,397.3 L989.3,397.8 L990.5,398.7 L991.3,399.9 L990.8,400.4"/>
<path d="M582.0,536.0 L581.4,537.5 L582.3,538.9 L583.5,540.2 L583.7,541.6 L583.5,543.1 L582.3,544.7 L582.3,546.2 L583.8,547.5 L583.8,549.0 L583.2,550.3 L581.6,551.2 L582.0,552.9 L581.8,554.4 L581.4,555.7 L582.7,556.9 L581.8,558.5 L582.7,559.9 L581.4,561.5 L581.9,562.9 L580.6,564.2 L581.6,565.7 L581.9,567.2 L580.0,568.4 L579.9,569.9 L581.7,571.6 L579.3,572.7 L580.3,572.9"/>
<path d="M511.7,554.6 L512.0,556.1 L512.2,557.5 L513.3,558.8 L511.9,560.5 L512.0,561.7 L511.5,563.0 L511.4,564.5 L510.5,565.7 L509.5,566.9 L509.3,568.4 L509.7,570.1 L508.1,571.1 L508.8,572.8 L509.5,573.9 L509.5,575.4 L509.3,576.9 L508.7,578.6 L510.2,579.7 L510.3,581.2 L511.9,581.9 L513.2,582.8 L512.2,585.2 L514.0,585.8 L515.4,586.1 L516.5,587.2 L518.4,586.7 L518.4,588.9 L520.3,589.3 L520.1,591.3 L522.3,591.4 L522.8,592.9 L524.0,593.8 L524.3,595.4 L526.3,596.0 L526.9,597.3 L526.9,598.9 L527.7,601.2 L525.5,601.0 L525.5,603.1 L524.2,603.9 L524.2,604.6 L525.8,605.2 L525.1,607.5 L527.0,608.0 L527.2,609.6 L528.2,611.2 L527.3,612.3 L525.7,612.9 L524.8,614.4 L524.8,615.9 L524.7,617.4 L524.9,618.8 L526.2,620.0 L527.5,621.4 L527.4,622.8 L525.8,624.5 L525.6,625.9 L526.7,627.3 L528.0,628.8 L527.4,630.2 L526.1,631.6 L527.2,633.1 L527.0,634.5 L526.5,636.0 L525.7,637.3 L526.1,637.7"/>
<path d="M588.0,580.1 L587.4,581.4 L585.5,581.9 L586.1,584.0 L585.2,585.2 L583.9,586.1 L583.2,587.4 L582.1,588.4 L580.3,589.0 L580.5,590.6 L581.1,592.3 L579.1,593.2 L579.9,595.0 L578.2,595.9 L579.1,597.8 L577.4,598.7 L576.9,600.0 L576.1,601.2 L574.6,601.9 L574.1,603.4 L574.2,605.1 L573.2,606.2 L573.0,607.9 L571.1,608.3 L570.5,609.7 L571.3,610.8 L570.3,612.4 L570.1,613.9 L571.9,615.1 L570.6,616.7 L570.6,618.1 L571.9,619.6 L570.5,621.0 L571.8,622.5 L572.0,624.0 L570.0,625.3 L569.5,626.7 L570.3,628.2 L569.2,629.6 L569.9,631.2 L569.4,632.7 L570.6,634.0 L570.9,635.4 L569.9,637.0 L571.0,637.7"/>
<path d="M650.0,586.0 L648.8,587.0 L649.1,588.8 L648.8,590.2 L647.0,591.0 L647.8,593.0 L646.8,593.9 L646.9,595.4 L647.1,596.9 L648.5,598.0 L647.9,599.7 L648.8,600.7 L649.7,602.2 L651.9,601.3 L652.1,603.7 L654.2,603.0 L653.3,604.6 L653.6,606.2 L652.5,607.4 L653.6,609.2 L653.1,610.5 L654.0,611.3 L653.3,613.3 L654.3,614.4 L655.7,615.3 L655.7,617.2 L655.8,618.6 L655.4,620.0 L654.3,621.4 L654.6,622.4 L655.8,623.6 L657.6,622.8 L657.8,624.0 L656.7,625.1 L656.6,626.7 L656.1,628.0 L655.3,629.3 L656.6,631.2 L655.6,632.5 L656.1,634.1 L654.2,635.1 L654.3,636.6 L654.2,637.7"/>
<path d="M693.2,593.6 L692.3,595.0 L693.7,596.6 L691.8,597.8 L691.9,599.3 L693.0,600.7 L693.0,602.2 L694.3,603.4 L694.4,604.8 L693.6,606.5 L693.9,608.1 L695.8,608.5 L695.8,610.3 L697.2,611.1 L697.8,612.5 L697.9,614.1 L699.8,614.7 L700.8,615.8 L701.0,617.3 L700.5,619.3 L702.5,619.8 L702.8,621.4 L704.9,621.5 L705.5,623.3 L706.9,623.6 L708.3,622.4 L709.8,621.8 L711.2,621.5 L712.9,621.8 L714.2,622.6 L715.3,623.8 L716.5,624.9 L717.9,625.1 L717.3,627.0 L719.4,627.6 L719.5,629.1 L719.2,630.7 L719.1,632.2 L719.3,633.6 L719.5,635.1 L721.8,636.1 L720.4,637.8 L721.2,637.7"/>
<path d="M790.6,561.1 L790.9,562.7 L790.4,563.7 L791.2,565.0 L790.6,566.2"/>
<path d="M790.6,580.4 L790.3,581.9 L789.2,582.9 L788.1,584.0 L786.9,585.1 L787.5,586.8 L787.4,588.3 L787.9,589.7 L787.7,591.2 L787.2,592.7 L786.8,593.5 L786.3,594.8 L785.6,596.1 L786.8,598.3 L786.1,599.5 L784.0,600.3 L784.3,601.9 L784.8,603.6 L784.4,604.7 L784.7,606.3 L786.8,606.4 L787.6,607.6 L788.8,608.4 L788.5,610.8 L790.7,610.6 L790.6,611.3"/>
<path d="M790.6,632.8 L790.1,634.2 L789.8,635.6 L789.1,636.9 L789.0,637.7"/>
<path d="M737.8,535.4 L739.2,536.3 L739.2,537.9 L739.8,539.3 L739.1,541.0 L739.7,542.3 L740.7,542.8"/>
<path d="M684.7,637.7 L685.6,636.5 L687.2,635.9 L687.5,633.4 L688.9,634.2 L690.4,633.7 L691.7,635.3 L693.4,635.0 L694.5,636.1 L694.9,637.9 L695.8,637.7"/>
<path d="M735.6,637.7 L737.1,637.4 L738.6,637.1 L738.8,634.6 L739.3,633.7 L742.0,633.9 L741.8,632.0 L743.6,631.7 L744.4,633.2 L745.4,634.2 L745.7,635.5 L746.6,636.7 L747.5,637.7"/>
<path d="M706.6,577.5 L705.8,579.1 L704.2,578.7 L702.9,579.9 L701.4,578.1 L699.7,579.2 L698.6,578.0 L699.3,577.3 L700.8,577.2 L701.9,576.4 L703.3,576.5 L704.7,576.4 L706.1,576.8"/>
<path d="M854.4,536.0 L852.8,536.2 L852.5,538.4 L850.3,537.6 L850.4,539.4 L851.0,541.0 L850.7,542.4 L849.3,543.7 L847.9,544.2 L846.4,544.6 L845.2,545.4 L844.9,547.6 L842.8,547.3 L843.0,549.5 L840.9,549.4 L840.3,551.0 L839.2,551.8 L837.8,552.5 L837.7,554.5 L836.6,554.6"/>
<path d="M873.9,610.6 L875.6,610.6 L876.8,611.4 L877.3,613.4 L878.9,613.6 L880.5,613.5 L881.8,614.1 L883.0,614.7 L884.2,613.8 L885.9,614.1 L886.8,612.4 L888.4,612.5 L889.8,612.1 L891.5,612.9 L893.0,611.8 L893.1,610.1 L894.6,609.3 L894.0,607.0 L895.9,606.9 L896.3,605.2 L895.7,604.4 L896.2,602.8 L896.1,600.9 L897.3,600.1 L898.8,599.9 L900.5,600.9 L901.8,601.5 L903.1,602.3 L904.8,601.6 L906.0,602.7 L907.1,603.9 L908.5,604.4 L910.4,603.2 L911.7,603.4 L913.1,603.0 L914.6,603.9 L916.0,603.9 L917.4,604.3 L918.9,603.9 L920.1,605.6 L921.1,603.3 L923.3,604.1 L924.4,603.1 L925.5,602.1 L926.6,601.3 L928.2,601.6 L929.2,600.1 L930.9,600.6 L932.4,600.0 L932.8,597.5 L934.5,597.6 L935.2,596.3 L937.2,596.5 L937.5,594.5 L940.1,594.6 L939.1,592.8 L939.9,591.5 L939.5,589.9 L941.4,589.3 L942.9,589.7 L944.4,589.8 L945.6,587.8 L946.9,587.6 L948.4,587.4 L949.6,586.6 L951.2,586.1 L952.6,586.3 L954.1,587.0 L955.5,585.9 L956.7,587.8 L958.6,586.2 L959.9,587.0 L961.3,587.6 L962.0,586.0 L963.6,585.9 L964.8,585.0 L965.9,584.0 L967.6,584.3 L969.1,584.1 L970.4,585.2 L972.0,585.1 L973.6,585.5 L973.7,587.7 L975.5,587.7 L976.5,588.5 L978.2,588.5 L978.9,590.3 L980.7,589.8 L981.6,591.4 L982.6,592.8 L984.6,591.6 L985.9,592.4 L986.6,594.3 L988.4,593.9 L988.7,596.0 L990.2,596.5 L990.8,596.7"/>
<path d="M916.3,536.0 L917.7,536.3 L919.2,536.4 L919.9,538.5 L921.5,538.6 L922.8,539.1 L923.8,540.2 L924.8,541.3 L926.2,541.8 L928.0,541.3 L928.9,543.5 L930.8,542.0 L932.2,542.2 L933.6,542.6 L934.9,543.5 L936.1,544.5 L937.8,543.7 L939.2,544.0 L940.5,545.0 L941.1,546.6 L943.3,546.2 L943.3,548.5 L945.3,548.4 L945.6,550.3 L947.6,550.1 L947.8,552.2 L948.7,553.4 L951.5,553.4 L951.9,551.9 L953.4,551.3 L953.5,550.3 L955.3,548.8 L956.5,550.0 L958.0,550.1 L959.4,550.4 L960.8,551.0 L962.0,551.3"/>
<path d="M968.0,536.0 L967.8,537.8 L966.0,538.2 L964.3,538.7 L965.2,540.7 L963.6,541.9 L964.9,543.6 L964.2,545.0 L962.8,546.1 L963.6,547.8 L962.4,549.0 L963.2,550.8 L961.9,552.2 L963.5,552.7 L965.4,552.9 L966.2,554.1 L966.7,555.4 L968.0,556.4 L969.5,556.2 L970.8,557.3 L972.1,555.5 L973.6,555.4 L974.7,554.2 L976.7,555.2 L978.0,554.5 L979.5,554.6 L980.2,552.0 L982.1,553.3 L983.0,551.4 L984.4,550.9 L985.7,550.2 L987.2,550.3 L988.9,550.9 L990.0,549.5 L990.8,549.6"/>
<path d="M983.2,552.1 L984.8,552.5 L986.1,553.1 L986.4,555.0 L987.2,555.8 L986.9,557.2 L987.3,558.8 L986.9,560.2 L985.9,562.0 L986.7,563.3 L988.6,563.8 L989.4,565.0 L988.6,567.0 L986.7,566.2 L985.9,568.2 L984.1,567.5 L982.3,567.4 L981.2,568.3 L980.5,570.0 L978.8,569.9 L978.2,572.0 L977.3,572.6 L979.1,573.1 L979.0,574.9 L981.1,575.3 L981.0,577.1 L980.5,578.9 L982.5,579.6 L983.5,580.7 L983.4,582.4 L984.6,583.7 L984.7,585.2 L983.6,586.8 L982.9,588.4 L983.1,589.9 L983.7,591.2 L984.9,592.4 L984.9,592.8"/>
<path d="M990.8,599.6 L989.6,600.8 L988.1,600.9 L986.5,599.9 L986.6,600.9 L985.1,602.6 L985.4,604.1 L985.9,605.4 L987.9,605.5 L989.4,606.3 L990.8,605.0 L990.8,605.5"/>
<path d="M797.6,536.0 L798.0,537.4 L798.0,538.9 L798.2,540.3 L798.8,541.7 L799.4,543.1 L800.1,544.4 L801.6,545.0 L802.5,546.2 L802.8,546.4 L801.8,547.4 L800.1,547.5 L798.7,547.9 L798.1,549.8 L797.5,551.1 L798.2,553.0 L796.2,553.2 L795.2,554.3 L794.0,555.1 L793.3,556.8 L791.8,557.1 L790.8,558.2 L790.8,560.0 L790.0,559.7"/>
<path d="M790.0,564.8 L789.8,566.5 L791.2,567.4 L791.8,568.8 L792.9,570.0 L793.7,571.3 L793.3,572.8 L793.9,574.2 L794.2,575.6 L794.0,577.6 L793.6,579.0 L791.8,579.7 L792.0,581.4 L790.5,582.4 L790.8,583.9 L789.3,585.1 L789.6,586.6 L790.0,586.8"/>
<path d="M790.0,610.6 L790.9,611.7 L792.7,612.0 L793.5,613.2 L793.5,615.0 L794.2,616.5 L793.0,617.9 L791.7,619.1 L792.6,620.7 L792.6,622.4 L793.0,623.8 L795.6,623.9 L795.4,626.5 L793.7,626.8 L791.7,626.9 L791.6,628.7 L790.5,629.9 L790.3,631.4 L791.4,633.2 L790.0,634.3"/>
</g>
<g fill="none" stroke="#868686" stroke-width="1.25" stroke-linejoin="round">
<path d="M463.9,168.2 L465.4,167.7 L466.1,166.4 L467.8,166.4 L468.6,164.8 L470.2,164.8 L470.5,162.5 L472.3,162.7 L473.5,161.5 L474.8,160.8 L475.9,160.3 L477.4,160.1 L478.6,159.3 L480.4,159.5 L481.7,159.1 L482.9,157.9 L484.6,158.3 L485.5,157.0 L487.2,156.9 L488.0,155.5 L488.8,154.2 L490.5,153.6 L492.3,155.0 L493.6,154.1 L494.9,153.7 L496.3,153.9 L497.8,153.8 L499.5,153.9 L499.8,155.8 L501.0,156.7 L501.9,158.0 L503.6,158.0 L505.5,157.7 L506.3,159.1 L507.3,160.2 L508.4,161.2 L510.0,161.4 L511.2,162.3 L512.3,163.2 L512.9,165.0 L515.0,164.3 L516.3,165.0 L516.6,167.3 L518.2,167.5 L520.1,166.9 L521.3,167.9 L522.3,168.9 L523.6,169.7 L524.6,171.0 L525.7,171.0 L527.2,172.1 L526.5,173.8 L527.3,175.2 L528.4,176.1 L529.8,176.8 L530.4,178.1 L530.2,179.9 L531.9,180.6 L532.6,181.9 L532.4,183.7 L533.7,184.6 L535.1,185.5 L535.1,187.8 L536.8,187.6 L538.3,187.7 L539.6,188.0 L541.1,188.1 L542.2,189.5 L543.6,190.2 L543.3,192.3 L544.9,192.1 L546.4,193.2 L547.8,192.8 L549.6,192.5 L550.1,190.8 L551.1,189.7 L552.9,189.7 L554.1,188.9 L555.5,188.3 L555.9,186.4 L557.4,186.1 L558.9,186.0 L560.0,186.3 L561.5,186.6 L563.3,186.0 L564.0,188.0 L565.6,188.1 L566.9,188.6 L568.0,189.7 L569.2,190.7 L570.8,190.5 L571.9,191.6 L573.3,192.1 L574.6,191.5 L575.8,190.5 L575.9,188.9 L577.8,188.3 L576.5,186.1 L577.1,184.8 L577.4,183.4 L579.5,182.5 L578.5,180.7 L578.8,179.3 L579.5,177.9 L579.6,176.4 L581.3,175.5 L581.3,173.9 L582.6,172.9 L582.9,171.4 L584.8,172.1 L585.9,171.0 L587.2,170.3 L588.7,170.4 L590.0,169.4 L591.0,169.5 L592.0,168.4 L593.0,166.6 L590.9,166.9 L590.3,165.4 L589.4,164.3 L589.0,162.8 L587.4,161.9 L588.4,159.7 L586.8,159.2 L586.3,158.5"/>
<path d="M574.4,191.9 L575.9,191.6 L577.3,192.9 L578.8,191.8 L580.4,191.5 L581.3,193.3 L581.5,193.8 L581.9,195.2 L583.7,196.4 L583.2,197.8 L584.2,198.8 L585.3,199.8 L586.0,201.1 L587.0,201.9 L588.0,203.1 L589.8,202.9 L590.4,204.7 L590.7,206.4 L592.4,206.7 L593.8,207.4 L593.6,209.0 L594.5,210.4 L593.4,211.9 L593.4,213.0 L593.1,214.4 L593.4,216.0 L594.1,217.7 L593.7,219.1 L592.3,220.3 L590.8,221.1 L591.0,222.8 L589.1,223.5 L589.4,225.4 L590.8,226.7 L590.2,228.2 L589.3,229.9 L590.4,231.2 L588.7,232.0 L588.3,233.4 L588.6,235.1 L587.0,236.1 L587.6,236.6"/>
<path d="M587.1,236.0 L588.6,236.7 L588.3,238.7 L589.7,239.1 L591.4,239.5 L592.7,239.0 L593.9,238.0 L594.7,238.8 L596.6,238.9 L596.3,241.3 L596.3,241.8 L597.1,243.4 L597.7,245.0 L596.7,246.1 L596.8,247.7 L597.1,249.2 L598.9,249.9 L599.5,251.1 L600.4,252.3 L600.6,253.7"/>
<path d="M600.6,287.2 L599.6,288.3 L597.8,288.4 L597.4,290.1 L596.8,291.6 L595.1,291.9 L593.6,292.4 L592.6,293.4 L592.6,295.5 L590.9,295.9 L590.6,297.4 L590.1,298.8 L587.5,298.8 L587.1,300.3 L587.2,302.0 L585.9,303.1 L585.4,304.5 L586.8,306.4 L585.4,307.7 L584.2,308.5 L583.3,309.8 L581.2,309.2 L580.2,308.7 L578.6,309.3 L577.3,308.4 L575.8,308.8 L574.3,308.7 L573.1,307.9 L572.0,306.8 L570.2,307.5 L568.9,306.8 L567.3,307.3 L566.1,306.7 L564.6,306.9 L563.6,308.1 L562.6,309.5 L560.5,308.9 L559.5,310.0 L558.4,311.0 L558.7,313.0 L556.3,313.2 L556.6,314.8"/>
<path d="M410.0,275.0 L411.4,274.5 L412.7,273.8 L414.2,273.4 L415.3,273.2 L417.2,273.6 L417.9,271.9 L419.3,271.4 L420.8,271.6 L422.2,271.2 L423.7,272.0 L425.1,270.9 L426.6,270.7 L427.8,271.6 L429.5,271.2 L430.4,273.1 L432.1,272.2 L433.5,272.2 L435.0,272.8 L436.4,271.7 L437.9,272.6 L439.4,273.0 L440.7,271.7 L441.7,273.2 L443.4,273.0 L444.5,274.0 L446.1,274.0 L447.5,274.4 L449.0,274.8 L450.6,274.8 L451.7,275.8 L452.3,278.1 L453.9,277.8 L455.4,278.1 L457.0,278.9 L458.2,277.9 L459.8,278.2 L460.8,276.5 L462.4,276.2 L463.5,278.1 L465.2,276.7 L466.8,277.7 L467.8,276.6 L469.5,276.5 L470.7,275.7 L471.6,274.3 L471.7,272.2 L472.7,271.1 L474.5,271.0 L476.2,270.8 L476.7,268.7 L478.3,268.9 L479.4,267.7 L481.0,267.7 L481.7,266.4 L483.3,266.2 L484.3,267.6 L485.6,268.6 L485.0,270.4 L486.9,271.3 L487.2,272.7 L487.5,274.1 L487.7,275.6 L487.6,277.2 L489.0,278.2 L489.0,279.8 L489.6,281.4 L491.9,281.2 L491.8,283.3 L493.4,283.9 L494.7,284.6 L496.1,284.8 L497.7,284.8 L499.2,284.3 L500.6,284.6 L502.0,284.9 L503.3,285.2 L504.8,285.1 L506.2,285.2 L507.7,286.1 L508.8,286.9 L510.1,287.6 L511.4,288.2 L513.6,287.7 L513.3,289.7 L515.3,290.0 L516.5,290.9 L517.1,292.1 L517.7,293.6 L519.6,293.5 L520.6,294.6 L521.4,295.9 L521.8,297.7 L523.5,297.9 L524.7,298.8 L525.8,299.8 L527.3,300.5 L526.8,302.7 L527.5,304.0 L528.7,304.9 L530.2,305.5 L531.1,306.7 L532.3,307.6 L532.6,309.2 L533.4,310.4 L535.0,311.0 L535.1,313.1 L536.4,313.7 L538.3,313.6 L539.0,315.5 L540.4,315.7 L542.1,315.0 L543.5,315.4 L544.8,316.5 L546.2,314.9 L547.7,315.6 L549.2,316.8 L550.6,315.2 L552.0,315.4 L553.6,316.2 L555.0,316.0 L556.4,315.6 L556.6,314.8"/>
<path d="M550.7,315.7 L551.0,317.3 L549.9,318.5 L548.7,319.6 L548.3,321.0 L547.8,322.3 L547.9,323.9 L546.6,324.9 L546.4,326.4 L546.8,328.2 L545.7,329.2 L546.4,330.7 L544.2,331.9 L543.7,333.3 L544.6,334.9 L543.8,336.2 L542.1,336.7 L542.2,338.6 L542.6,338.1 L543.9,338.7 L545.1,339.6 L546.3,340.6 L547.6,341.6 L549.3,340.1 L550.5,341.9 L552.1,341.3 L553.0,342.4 L554.4,342.9 L556.4,342.1 L555.2,343.9 L555.6,345.7 L555.4,347.2 L553.2,347.7 L551.5,347.2 L550.2,348.1 L549.2,349.4 L547.3,348.7 L545.9,349.1 L545.3,351.1 L543.8,351.5 L542.3,351.5 L540.7,351.3 L539.9,353.4 L538.3,353.2 L536.5,353.2 L535.7,354.6 L534.4,355.2 L533.0,356.5 L533.4,358.0 L533.7,359.6 L532.8,360.9 L533.2,362.3 L534.3,363.4 L533.9,365.2 L535.5,366.0 L536.0,367.4 L536.0,369.0 L536.5,369.4 L535.2,370.1 L534.4,371.5 L533.9,373.1 L532.0,373.0 L530.7,373.7 L529.8,375.0 L528.6,375.8 L527.8,377.1 L526.7,378.0 L525.4,378.6 L524.7,380.3 L522.9,380.1 L521.4,380.5 L521.0,382.6 L519.1,382.4 L517.9,383.2 L517.6,385.2 L516.7,386.3 L514.8,386.3 L514.5,386.6"/>
<path d="M506.6,403.8 L507.8,404.6 L509.5,404.5 L510.3,406.6 L511.8,407.0 L513.4,406.2 L514.2,407.0 L515.8,407.8 L516.7,409.0 L517.3,410.3 L516.1,411.9 L516.9,413.5 L515.0,414.7 L515.7,416.7 L514.3,417.2 L513.0,418.0 L511.5,416.7 L509.9,416.8 L508.7,416.0 L507.7,414.8 L508.1,413.2 L507.3,411.9 L506.6,410.6 L506.7,409.1 L506.2,407.7 L505.2,407.6 L504.1,405.9 L502.8,406.6 L501.5,407.2 L499.9,407.4 L499.2,409.1 L498.0,410.0 L496.7,410.7 L495.7,411.6 L494.3,412.2 L494.3,414.3 L492.4,414.4 L490.9,414.6 L489.7,415.5 L488.5,416.7 L486.7,415.7 L485.8,417.6 L484.0,416.9 L483.2,418.1 L482.2,419.3 L480.9,419.9 L480.5,420.5 L480.1,421.8 L478.5,423.0 L478.0,423.9 L477.3,425.4 L475.8,425.8 L474.8,426.9 L473.5,427.4 L471.8,427.1 L471.0,428.8 L469.1,428.5 L468.0,429.5 L466.8,430.3 L465.5,431.8 L464.0,431.5 L462.6,431.3 L461.3,429.9 L460.8,427.9 L459.6,427.1 L457.6,426.7 L456.4,428.7 L454.8,427.7 L453.3,427.7 L451.8,428.2 L450.5,428.9 L449.4,430.8 L447.9,430.5 L446.8,428.8 L445.0,428.8 L443.5,429.1 L442.7,430.7 L441.5,429.9 L439.7,431.3 L438.6,429.3 L437.2,429.1 L435.5,430.1 L434.0,430.6 L432.7,429.3 L432.0,429.2"/>
<path d="M410.0,406.0 L411.5,405.3 L412.9,406.4 L414.4,405.5 L415.7,406.9 L417.1,407.1 L418.7,406.8 L419.9,407.7 L421.2,408.3 L423.0,407.9 L423.9,409.4 L424.7,410.6 L425.7,411.6 L425.9,413.3 L426.9,414.3 L428.5,415.0 L429.6,416.0 L430.7,417.0 L429.9,419.0 L430.5,420.4 L431.2,421.7 L432.0,422.9 L432.0,424.4 L432.7,425.8 L432.0,427.3 L432.9,428.7 L432.0,430.2 L432.2,431.6 L432.4,433.1 L433.7,434.3 L434.5,435.6 L434.3,437.1 L433.7,438.7 L434.3,440.1 L434.1,441.6 L435.0,442.9 L435.5,444.3 L434.7,446.0 L436.6,446.9 L437.1,448.3 L436.7,450.0 L436.9,451.4 L437.8,452.7 L437.9,454.1 L438.6,455.4 L438.5,457.0 L438.4,458.5 L438.9,459.9 L439.7,461.2 L440.6,462.4 L440.1,464.2 L441.7,465.1 L441.9,466.6 L441.9,468.1 L442.8,469.3 L444.0,470.4 L443.7,472.0 L444.4,473.3 L444.1,474.9 L445.1,476.2 L445.8,477.5 L445.2,479.1 L446.5,480.3 L447.1,481.6 L446.2,483.3 L446.4,484.7 L448.4,485.8 L449.1,487.1 L447.5,488.9 L447.4,490.3 L448.7,491.6 L449.3,493.0 L448.4,494.6 L447.9,496.1 L449.5,497.5 L449.0,498.9 L448.4,500.3 L449.3,501.8 L448.8,503.3 L448.9,504.9 L447.8,506.0 L447.6,507.8 L446.7,509.0 L445.1,509.4 L444.3,510.7 L442.9,511.7 L441.6,512.2 L440.0,512.2 L438.7,512.9 L437.0,512.6 L436.1,514.0 L435.2,515.3 L434.1,516.2 L432.8,516.9 L431.0,516.9 L430.8,518.8 L429.5,519.6 L427.9,520.1 L426.9,521.2 L426.6,522.8 L425.1,523.4 L424.5,524.8 L424.3,526.5 L423.7,527.9 L422.8,529.0 L420.8,529.3 L420.6,531.0 L419.0,531.7 L419.5,534.0 L420.9,534.6 L422.6,534.3 L424.5,533.9 L425.5,535.1 L426.8,535.9 L426.6,536.6"/>
<path d="M410.0,531.4 L411.4,532.6 L412.9,531.6 L414.3,532.2 L415.7,532.5 L417.3,531.6 L418.8,531.4 L419.3,532.6"/>
<path d="M420.2,536.0 L421.3,537.4 L422.7,537.7 L424.2,537.7 L425.9,536.8 L427.4,537.4 L428.2,538.9 L429.3,539.9 L431.5,539.1 L432.7,539.9 L432.8,542.2 L435.0,542.0 L435.2,543.8 L436.7,544.4 L436.9,545.8 L436.5,547.4 L437.3,548.7 L438.0,550.1 L438.3,551.6 L437.3,552.9 L436.9,554.3 L437.0,555.8 L436.6,557.2 L436.1,558.6 L436.5,560.1 L436.5,561.6 L435.4,562.9 L435.5,564.6 L433.7,565.2 L432.4,566.0 L432.2,567.9 L433.8,569.2 L433.7,570.6 L432.7,572.3 L434.5,573.3 L433.9,575.2 L436.1,575.8 L435.5,577.7 L437.7,578.2 L437.2,580.1 L437.2,581.2 L437.5,582.7 L437.2,584.1 L436.3,585.4 L436.0,587.4 L438.2,588.2 L438.1,589.7 L439.6,590.8 L439.5,592.2 L440.7,593.1 L441.5,594.3 L441.4,596.2 L443.2,596.8 L443.9,598.1 L444.9,599.2 L444.0,601.3 L445.7,602.0 L446.8,603.2 L446.3,605.0 L446.5,606.5 L447.3,607.7 L448.0,609.0 L448.7,610.3 L449.0,611.8 L450.5,612.6 L450.2,614.6 L451.4,615.5 L452.2,616.8 L453.2,617.9 L454.3,618.8 L455.6,619.4 L456.5,620.6 L457.0,622.0 L458.1,623.0 L460.0,623.4 L458.5,625.6 L460.1,626.9 L459.8,628.4 L460.0,629.8 L461.0,631.1 L460.1,632.7 L460.2,634.2 L459.8,635.7 L460.4,637.1 L460.8,637.7"/>
<path d="M436.3,572.4 L437.9,572.7 L438.9,571.1 L440.6,571.4 L441.5,572.1 L443.2,570.9 L444.5,572.0 L446.1,571.5 L447.6,571.9 L448.7,572.9 L449.4,574.5 L450.4,572.7 L452.2,572.7 L452.9,571.3 L453.8,569.9 L455.4,569.7 L456.6,568.9 L457.9,568.3 L459.7,567.9 L460.7,566.9 L460.4,564.8 L462.6,564.7 L462.3,562.6 L463.3,561.3 L463.3,559.8 L463.2,558.7 L464.0,557.3 L466.0,557.8 L466.9,557.9 L468.3,557.0 L469.7,555.6 L471.3,557.1 L472.7,557.0 L474.2,557.2 L475.6,557.4 L477.1,557.4 L478.5,556.7 L479.8,555.7 L481.3,555.5 L482.7,555.0 L484.2,555.1 L485.5,554.4 L487.0,554.4 L488.2,553.4 L489.7,553.2 L491.3,553.7 L492.6,553.0 L493.9,553.2 L495.3,552.7 L496.8,551.3 L498.3,551.9 L499.7,552.1 L501.1,552.5 L502.6,552.6 L503.8,552.8 L505.2,553.8 L506.6,554.7 L508.0,555.1 L509.4,555.5 L511.0,554.4 L512.1,552.7 L513.6,552.6 L514.9,552.0 L516.4,553.8 L518.1,553.1 L519.3,554.2 L520.8,554.0 L522.2,554.6 L523.5,555.6 L525.0,555.5 L526.7,554.4 L527.7,556.1 L529.2,556.3 L529.9,558.2 L531.8,557.3 L533.2,557.2 L534.6,558.8 L536.1,557.9 L538.0,557.4 L538.4,559.5 L539.4,560.6 L541.1,560.6 L542.7,560.1 L543.9,561.9 L545.5,561.1 L546.8,560.7 L548.3,560.1 L549.8,561.9 L551.4,560.9 L552.9,561.4 L553.8,562.7 L554.5,564.2 L556.1,565.2 L557.6,563.4 L559.0,564.2 L560.5,563.4 L562.0,564.7 L563.4,563.8 L564.9,564.0 L566.1,564.3 L567.7,563.9 L569.1,563.9 L570.7,565.0 L570.6,566.5 L569.5,568.1 L569.5,569.6 L570.5,570.9 L572.3,571.6 L572.3,573.4 L573.8,573.8 L575.2,573.9 L576.7,573.6 L578.1,573.4 L579.6,572.6 L581.0,572.7 L582.5,572.3 L583.9,573.4 L585.4,572.9 L586.2,574.2 L588.1,574.3 L589.1,575.3 L589.6,577.3 L588.9,578.7 L587.4,579.8 L589.5,580.2 L590.9,579.8 L590.6,577.6 L592.3,576.7 L592.6,575.3 L592.6,573.7 L594.2,574.0 L595.4,573.1 L596.6,573.1 L596.5,574.9 L598.0,575.6 L599.3,575.4 L600.6,575.0"/>
<path d="M599.4,576.2 L600.9,575.8 L602.3,575.2 L602.2,572.7 L604.6,573.4 L605.6,572.6 L605.9,570.3 L608.0,570.9 L608.1,570.7 L610.0,571.3 L609.3,573.4 L611.1,574.0 L611.7,575.3 L612.9,576.0 L614.3,575.9 L615.8,575.8 L617.2,574.6 L618.5,575.2 L620.1,574.6 L621.5,575.1 L622.5,576.4 L624.1,577.1 L624.5,578.6 L624.3,580.5 L626.2,580.8 L626.9,582.1 L628.6,582.5 L628.9,582.5 L628.2,580.6 L628.8,579.3 L630.6,578.5 L630.9,577.1 L632.3,576.5 L633.6,575.8 L634.6,574.8 L635.7,573.8 L636.7,572.6 L637.9,571.8 L639.2,571.2 L640.5,570.5 L642.3,571.0 L642.2,573.0 L644.2,573.2 L645.4,574.1 L645.9,575.7 L646.8,576.9 L645.8,578.9 L646.0,580.4 L647.0,581.6 L647.3,583.1 L648.7,584.0 L649.7,585.1 L650.4,585.6 L652.0,585.8 L653.1,584.5 L654.7,584.7 L655.9,584.0 L657.4,583.6 L658.9,583.1 L659.7,581.9 L660.1,580.0 L661.8,579.8 L663.2,579.3 L663.9,578.9 L665.8,579.1 L666.8,580.1 L667.1,581.7 L668.6,582.0 L670.0,581.4 L671.5,581.7 L672.9,581.1 L674.5,581.3 L675.5,579.5 L677.3,580.4 L678.6,580.0 L680.1,578.8 L681.4,579.5 L682.7,580.2 L683.1,582.0 L684.2,583.0 L686.2,583.2 L686.0,585.3 L687.4,586.1 L686.9,587.9 L688.7,588.7 L689.8,589.7 L690.4,590.7 L691.3,591.9 L692.4,592.8 L693.4,593.4 L693.4,591.7 L694.5,590.6 L694.8,589.1 L697.5,589.1 L696.9,587.2 L696.6,585.6 L696.5,584.1 L697.4,582.8 L695.7,581.9 L695.5,580.4 L696.2,578.7 L695.4,577.4 L695.2,575.9 L695.0,574.4 L693.3,573.5 L693.9,572.2 L694.5,570.9 L695.1,569.6 L694.9,568.0 L695.9,566.9 L695.2,564.9 L696.0,563.7 L697.6,562.9 L698.3,561.7 L699.2,560.5 L699.7,559.1 L699.7,557.4 L701.0,556.5 L701.7,555.1 L703.5,554.7 L703.7,553.0 L705.5,552.6 L706.1,551.2 L706.3,549.7 L707.4,548.6 L708.6,547.5 L708.0,545.7 L709.0,544.0 L711.0,545.3 L712.0,543.7 L713.8,544.5 L714.9,544.0 L716.3,544.2 L717.4,545.6 L719.3,544.4 L720.7,545.5 L721.4,543.7 L723.2,543.9 L724.7,543.7 L725.8,542.7 L726.8,541.6 L728.3,543.0 L729.7,542.1 L731.2,541.5 L732.6,541.6 L734.2,540.9 L735.5,542.3 L737.0,542.2 L738.4,542.6 L739.7,543.6 L741.2,543.1 L743.0,543.2 L743.3,545.1 L745.1,545.2 L745.5,547.0 L747.0,547.1 L748.4,546.9 L749.9,547.4 L751.0,546.0 L752.6,546.0 L753.8,545.2 L755.2,544.8 L756.0,544.0 L757.3,543.2 L759.4,543.4 L760.8,542.9 L761.4,541.0 L762.0,539.6 L760.5,537.9 L761.3,536.6 L761.9,536.0"/>
<path d="M599.4,284.6 L600.9,284.2 L602.3,285.1 L603.6,286.2 L604.5,286.2 L605.8,287.0 L607.0,287.8 L608.3,288.6 L608.4,291.3 L609.9,291.2 L611.5,290.3 L612.9,291.2 L614.3,290.7 L615.8,290.4 L616.3,288.4 L618.0,288.2 L619.5,288.2 L620.8,289.3 L621.3,290.1 L622.4,291.1 L624.4,291.5 L624.9,293.0 L626.2,293.8 L627.0,294.8 L627.5,296.4 L629.0,296.9 L629.3,296.9 L630.6,296.2 L632.1,295.9 L633.9,296.3 L634.8,294.7 L636.4,295.2 L637.7,294.6 L639.1,294.1 L640.6,294.0 L641.9,295.4 L643.2,296.1 L644.7,296.3 L646.0,297.0 L647.3,297.2 L649.0,296.9 L650.4,297.3 L651.4,298.7 L652.3,299.7 L653.1,301.1 L653.1,301.2 L652.6,302.5 L651.5,303.6 L651.4,305.2 L650.7,306.5 L650.1,308.1 L650.8,309.5 L650.1,311.0 L650.3,313.1 L651.9,313.5 L653.3,314.2 L654.3,315.2 L655.4,315.3 L656.6,314.5 L657.7,313.6 L658.8,312.6 L660.5,312.4 L661.6,311.6 L663.2,311.3 L664.2,310.7 L664.8,308.1 L666.4,308.2 L668.1,308.5 L669.1,307.3 L670.4,306.6 L671.2,305.1 L672.5,304.5 L673.9,305.6 L675.4,305.6 L676.8,306.2 L678.5,306.5 L680.0,306.3 L681.4,305.9 L682.8,305.8 L683.4,306.1 L684.6,306.9 L686.5,306.6 L687.8,307.1 L689.1,307.6 L690.3,308.8 L691.4,309.8 L692.4,309.9 L693.7,310.8 L695.2,311.6 L695.8,312.6 L696.9,313.5 L697.8,314.7 L699.1,315.5 L699.2,317.5 L700.0,318.7 L699.4,320.8 L701.7,320.9 L702.8,321.9 L703.5,323.7 L704.8,323.0 L705.4,321.4 L706.6,320.6 L707.8,319.7 L708.9,320.7 L709.3,322.1 L710.0,323.5 L708.2,325.2 L708.2,326.1 L707.8,327.5 L708.9,329.4 L707.5,330.5 L708.8,331.8 L707.6,333.5 L709.2,334.7 L708.2,336.1 L708.1,337.9 L705.7,337.9 L704.8,339.3 L705.2,341.1 L703.6,341.9 L704.4,344.0 L706.4,344.0 L706.1,345.7 L706.1,347.2 L707.8,348.3 L707.3,349.9 L708.3,351.2 L709.3,352.5 L708.6,354.1 L709.4,355.6 L707.8,357.0 L707.9,358.5 L709.0,359.9 L708.8,361.4 L709.5,362.8 L707.9,364.2 L706.4,364.3 L704.8,364.5 L703.0,365.8 L703.5,367.4 L703.7,368.9 L702.4,369.9 L702.3,371.4 L701.2,372.5 L702.6,373.7 L703.0,375.5 L705.1,375.2 L706.1,376.4 L707.4,377.0 L708.4,378.2 L709.1,379.5 L709.6,381.0 L712.1,380.6 L712.4,382.4 L713.9,382.9 L714.6,384.5 L716.0,384.9 L717.2,385.9 L717.4,385.0 L718.1,386.6"/>
<path d="M718.6,386.0 L718.8,387.7 L716.8,388.3 L716.2,390.2 L717.7,391.3 L718.5,392.5 L719.1,393.9 L719.8,395.2 L719.9,396.6 L720.4,398.0 L719.4,399.9 L721.2,400.8 L721.8,402.1 L720.4,403.9 L720.4,405.4 L722.5,406.6 L722.3,408.0 L720.9,409.7 L723.1,410.4 L724.0,411.7 L725.0,412.7 L726.2,413.6 L728.2,413.1 L728.7,415.0 L729.8,416.1 L731.5,416.1 L732.9,416.3 L734.1,417.5 L735.3,418.5 L736.7,418.8 L738.6,417.5 L739.4,419.1 L740.9,419.5 L741.5,421.3 L742.6,422.1 L744.0,422.2 L743.0,423.6 L742.9,425.0 L744.6,426.5 L744.1,428.0 L742.4,429.0 L743.4,430.9 L742.5,432.1 L741.6,433.3 L741.6,434.9 L740.2,435.9 L740.9,437.7 L740.1,438.7 L741.5,438.9 L743.1,437.9 L744.3,439.8 L746.0,440.1 L747.5,439.9 L748.5,438.0 L750.1,438.3 L751.3,437.2 L752.7,438.3 L754.1,438.6 L755.3,439.7 L757.2,438.6 L758.5,439.2 L760.2,439.6 L760.3,442.0 L761.7,442.5 L763.6,442.3 L764.1,444.2 L765.3,444.8 L765.2,446.3 L764.2,447.6 L764.0,449.0 L764.5,450.5 L765.7,451.4 L766.3,452.8 L767.1,454.0 L768.3,454.9 L769.3,455.5 L770.0,457.0 L770.6,458.7 L772.3,458.9 L773.8,459.3 L775.5,459.4 L775.4,461.9 L776.6,462.5 L776.8,463.9 L775.8,465.4 L775.5,465.8 L775.0,468.0 L773.9,468.9 L772.4,469.3 L770.4,468.2 L769.4,469.6 L768.4,471.2 L766.6,470.8 L765.8,472.0 L765.7,473.7 L764.9,475.0 L763.4,475.6 L761.4,475.5 L760.9,477.3 L759.0,477.3 L758.8,479.2 L757.7,480.3 L756.9,481.6 L755.0,481.5 L754.4,483.1 L752.2,482.5 L751.3,483.1 L749.9,484.5 L748.4,483.3 L747.0,483.3 L745.9,482.3 L744.6,481.7 L742.8,482.1 L741.9,480.6 L741.2,479.3 L739.2,479.1 L739.4,476.9 L738.0,476.0 L736.2,476.6 L734.7,476.5 L733.8,475.3 L732.3,475.0 L730.8,475.2 L729.6,476.6 L728.1,476.2 L726.9,477.1 L726.3,478.7 L725.3,479.3 L724.7,480.6 L724.1,482.0 L724.6,483.9 L723.9,485.2 L721.9,485.4 L720.3,486.0 L721.6,488.2 L721.6,489.8 L723.2,490.6 L724.5,491.6 L724.5,493.2 L726.1,493.6 L726.2,495.6 L727.4,496.5 L729.7,496.5 L730.1,498.0 L729.9,499.8 L732.1,500.1 L732.7,501.5 L733.2,503.5 L731.4,504.7 L730.4,506.0 L731.0,507.8 L731.3,509.3 L733.4,509.9 L732.9,511.7 L732.8,513.0 L733.4,514.3 L735.0,515.5 L735.2,517.0 L733.6,518.4 L733.8,519.9 L734.3,521.4 L734.5,522.9 L735.2,523.9 L734.0,525.8 L734.6,527.1 L736.0,528.2 L736.5,529.6 L735.2,531.6 L735.8,532.9 L738.4,533.3 L738.9,534.7 L738.0,536.7 L738.9,536.6"/>
<path d="M761.1,536.6 L760.7,535.1 L761.3,533.7 L761.8,532.3 L761.8,530.0 L763.3,530.6 L765.0,531.5 L766.3,530.4 L767.6,530.3 L768.8,531.3 L770.4,531.0 L772.0,530.9 L772.9,532.6 L774.8,531.7 L775.6,533.7 L776.9,534.3 L778.5,534.1 L780.0,534.3 L781.0,532.8 L782.5,532.5 L784.3,533.3 L785.7,532.7 L786.8,531.7 L787.4,529.9 L789.3,530.1 L790.7,530.2 L790.6,529.0"/>
<path d="M790.0,527.5 L791.6,528.3 L792.8,526.9 L794.4,527.5 L795.8,526.4 L797.1,527.2 L798.6,527.1 L799.9,528.1 L801.6,527.5 L802.7,528.7 L804.1,529.1 L804.8,529.0 L806.9,530.0 L808.4,529.7 L808.9,527.4 L810.5,527.7 L812.0,527.5 L813.4,527.1 L814.9,527.3 L816.0,527.3 L817.6,527.8 L818.5,528.9 L819.2,530.3 L819.3,532.1 L820.1,533.1 L821.2,534.2 L822.6,534.9 L822.6,536.7 L823.7,536.6"/>
<path d="M801.0,528.4 L799.7,529.3 L800.3,531.2 L798.2,531.8 L798.4,533.6 L798.4,535.0 L797.7,536.4 L798.0,536.6"/>
<path d="M823.1,536.0 L823.9,537.2 L824.3,538.6 L825.2,539.8 L825.8,541.1 L825.6,542.4 L826.1,543.7 L827.7,545.0 L827.9,546.4 L828.0,547.6 L829.0,548.7 L828.9,550.7 L830.2,551.5 L831.6,552.2 L833.0,552.8 L834.3,553.5 L834.9,555.1 L835.4,556.7 L837.6,556.7 L837.8,558.2 L838.6,559.4 L838.7,561.0 L839.6,562.4 L839.8,563.9 L838.2,565.1 L838.3,566.9 L836.8,566.4 L835.2,565.9 L833.9,566.8 L832.4,566.3 L830.8,567.1 L830.2,569.3 L828.8,569.7 L827.0,569.3 L826.8,570.4 L828.6,571.0 L827.9,573.2 L828.9,574.3 L830.1,575.2 L830.9,576.4 L832.5,577.0 L832.7,578.7 L833.8,580.2 L832.3,581.2 L831.2,582.4 L832.4,584.3 L832.2,585.1 L832.6,586.6 L832.9,588.3 L835.0,588.4 L834.8,590.2 L833.6,591.2 L833.7,592.9 L832.7,592.6 L833.9,594.4 L835.3,594.5 L836.8,594.6 L838.2,594.7 L839.8,593.8 L841.1,594.8 L842.6,595.1 L844.0,595.3 L845.7,595.5 L847.0,596.1 L847.5,597.8 L848.7,599.1 L850.1,599.0 L851.6,599.4 L852.9,598.0 L854.3,597.7 L855.6,597.3 L857.1,597.1 L858.6,597.0 L859.8,597.1 L861.3,595.3 L862.7,596.3 L864.2,596.8 L864.2,597.3 L865.3,598.6 L866.5,599.8 L866.4,601.3 L866.1,602.9 L866.9,604.3 L868.8,604.1 L869.9,605.1 L871.1,605.1 L872.5,604.4 L872.9,605.4 L873.9,607.1 L873.6,608.5 L872.1,609.7 L872.5,611.5 L874.2,612.5 L873.3,614.3 L873.8,615.7 L875.1,616.8 L876.0,618.0 L875.8,619.7 L876.3,621.1 L876.9,622.1 L878.0,623.4 L877.0,625.0 L877.5,626.4 L877.1,627.3 L876.6,628.7 L876.2,630.1 L875.2,631.2 L875.7,633.0 L875.6,634.4 L875.5,635.9 L876.5,637.3 L876.4,637.7"/>
<path d="M599.4,250.1 L601.0,250.9 L600.0,253.0 L600.8,254.2 L603.0,254.8 L602.6,256.5 L603.8,257.6 L603.2,259.5 L603.8,260.8 L605.5,261.7 L605.1,263.2 L605.5,264.6 L606.2,266.0 L606.1,267.5 L606.3,268.9 L606.5,270.3 L605.6,272.0 L606.3,273.3 L608.2,274.4 L607.9,276.0 L606.4,277.3 L606.5,278.8 L606.7,280.3 L606.5,281.5 L605.5,282.6 L605.6,284.5 L604.3,285.5 L603.2,286.4 L602.0,287.4 L600.2,287.1 L599.4,288.1"/>
<path d="M737.8,535.4 L739.0,536.4 L740.0,537.5 L739.5,539.4 L740.7,540.5 L740.3,542.2 L740.7,542.8"/>
</g>
<text x="524" y="104.8" text-anchor="middle" class="ml" font-size="17.2" letter-spacing="0.55" stroke="#f3f3f3" stroke-width="3" stroke-opacity="0.85" paint-order="stroke">Estonia</text>
<text x="488.6" y="228.2" text-anchor="middle" class="ml" font-size="17.2" letter-spacing="0.55" stroke="#f3f3f3" stroke-width="3" stroke-opacity="0.85" paint-order="stroke">Latvia</text>
<text x="459" y="340" text-anchor="middle" class="ml" font-size="17.2" letter-spacing="0.75" stroke="#f3f3f3" stroke-width="3" stroke-opacity="0.85" paint-order="stroke">Lithuania</text>
<text x="597.5" y="469" text-anchor="middle" class="ml" font-size="19.6" letter-spacing="0.6" stroke="#f3f3f3" stroke-width="3" stroke-opacity="0.85" paint-order="stroke">Belarus</text>
<rect x="418.8" y="619" width="183.2" height="15" fill="#fbfbfb" fill-opacity="0.88"/>
<text x="422.7" y="630.8" font-size="11" fill="#7d7d7d" font-family="Liberation Sans" textLength="175" lengthAdjust="spacingAndGlyphs">© 2020 Mapbox © OpenStreetMap</text>
<line x1="961.1" y1="317.0" x2="953.7" y2="317.0" stroke="#f4f4f4" stroke-opacity="0.85" stroke-width="9.1" stroke-linecap="round"/>
<line x1="953.7" y1="317.0" x2="935.1" y2="362.8" stroke="#f4f4f4" stroke-opacity="0.85" stroke-width="9.0" stroke-linecap="round"/>
<line x1="935.1" y1="362.8" x2="927.6" y2="362.8" stroke="#f4f4f4" stroke-opacity="0.85" stroke-width="8.9" stroke-linecap="round"/>
<line x1="927.6" y1="362.8" x2="875.5" y2="343.3" stroke="#f4f4f4" stroke-opacity="0.85" stroke-width="8.9" stroke-linecap="round"/>
<line x1="875.5" y1="343.3" x2="834.6" y2="349.8" stroke="#f4f4f4" stroke-opacity="0.85" stroke-width="8.4" stroke-linecap="round"/>
<line x1="834.6" y1="349.8" x2="797.3" y2="375.8" stroke="#f4f4f4" stroke-opacity="0.85" stroke-width="6.6" stroke-linecap="round"/>
<line x1="797.3" y1="375.8" x2="749.0" y2="388.6" stroke="#f4f4f4" stroke-opacity="0.85" stroke-width="5.6" stroke-linecap="round"/>
<line x1="749.0" y1="388.6" x2="689.4" y2="401.5" stroke="#f4f4f4" stroke-opacity="0.85" stroke-width="4.8" stroke-linecap="round"/>
<line x1="689.4" y1="401.5" x2="644.7" y2="407.9" stroke="#f4f4f4" stroke-opacity="0.85" stroke-width="4.6" stroke-linecap="round"/>
<line x1="644.7" y1="407.9" x2="618.7" y2="414.2" stroke="#f4f4f4" stroke-opacity="0.85" stroke-width="4.6" stroke-linecap="round"/>
<line x1="618.7" y1="414.2" x2="611.2" y2="407.9" stroke="#f4f4f4" stroke-opacity="0.85" stroke-width="4.6" stroke-linecap="round"/>
<line x1="611.2" y1="407.9" x2="581.5" y2="395.1" stroke="#f4f4f4" stroke-opacity="0.85" stroke-width="4.6" stroke-linecap="round"/>
<line x1="581.5" y1="395.1" x2="555.4" y2="407.9" stroke="#f4f4f4" stroke-opacity="0.85" stroke-width="4.6" stroke-linecap="round"/>
<line x1="555.4" y1="407.9" x2="540.5" y2="401.5" stroke="#f4f4f4" stroke-opacity="0.85" stroke-width="4.2" stroke-linecap="round"/>
<line x1="540.5" y1="401.5" x2="488.4" y2="401.5" stroke="#f4f4f4" stroke-opacity="0.85" stroke-width="4.3" stroke-linecap="round"/>
<line x1="488.4" y1="401.5" x2="466.1" y2="401.5" stroke="#f4f4f4" stroke-opacity="0.85" stroke-width="3.9" stroke-linecap="round"/>
<line x1="466.1" y1="401.5" x2="458.6" y2="401.5" stroke="#f4f4f4" stroke-opacity="0.85" stroke-width="3.7" stroke-linecap="round"/>
<line x1="458.6" y1="401.5" x2="454.9" y2="401.5" stroke="#f4f4f4" stroke-opacity="0.85" stroke-width="3.7" stroke-linecap="round"/>
<line x1="626.1" y1="330.2" x2="644.7" y2="414.2" stroke="#f4f4f4" stroke-opacity="0.85" stroke-width="5.3" stroke-linecap="round"/>
<line x1="644.7" y1="414.2" x2="618.7" y2="420.6" stroke="#f4f4f4" stroke-opacity="0.85" stroke-width="5.2" stroke-linecap="round"/>
<line x1="618.7" y1="420.6" x2="611.2" y2="414.2" stroke="#f4f4f4" stroke-opacity="0.85" stroke-width="5.2" stroke-linecap="round"/>
<line x1="473.5" y1="310.4" x2="458.6" y2="401.5" stroke="#f4f4f4" stroke-opacity="0.85" stroke-width="3.8" stroke-linecap="round"/>
<line x1="458.6" y1="401.5" x2="454.9" y2="401.5" stroke="#f4f4f4" stroke-opacity="0.85" stroke-width="3.8" stroke-linecap="round"/>
<line x1="451.2" y1="369.3" x2="469.8" y2="362.8" stroke="#f4f4f4" stroke-opacity="0.85" stroke-width="22.5" stroke-linecap="round"/>
<line x1="469.8" y1="362.8" x2="507.0" y2="395.1" stroke="#f4f4f4" stroke-opacity="0.85" stroke-width="22.5" stroke-linecap="round"/>
<line x1="507.0" y1="395.1" x2="525.6" y2="382.2" stroke="#f4f4f4" stroke-opacity="0.85" stroke-width="22.5" stroke-linecap="round"/>
<line x1="525.6" y1="382.2" x2="562.9" y2="375.8" stroke="#f4f4f4" stroke-opacity="0.85" stroke-width="21.4" stroke-linecap="round"/>
<line x1="562.9" y1="375.8" x2="600.1" y2="369.3" stroke="#f4f4f4" stroke-opacity="0.85" stroke-width="20.3" stroke-linecap="round"/>
<line x1="600.1" y1="369.3" x2="618.7" y2="362.8" stroke="#f4f4f4" stroke-opacity="0.85" stroke-width="19.1" stroke-linecap="round"/>
<line x1="618.7" y1="362.8" x2="637.3" y2="356.3" stroke="#f4f4f4" stroke-opacity="0.85" stroke-width="16.9" stroke-linecap="round"/>
<line x1="637.3" y1="356.3" x2="674.5" y2="349.8" stroke="#f4f4f4" stroke-opacity="0.85" stroke-width="15.2" stroke-linecap="round"/>
<line x1="674.5" y1="349.8" x2="685.7" y2="343.3" stroke="#f4f4f4" stroke-opacity="0.85" stroke-width="13.6" stroke-linecap="round"/>
<line x1="685.7" y1="343.3" x2="749.0" y2="375.8" stroke="#f4f4f4" stroke-opacity="0.85" stroke-width="13.3" stroke-linecap="round"/>
<line x1="749.0" y1="375.8" x2="793.6" y2="369.3" stroke="#f4f4f4" stroke-opacity="0.85" stroke-width="11.6" stroke-linecap="round"/>
<line x1="793.6" y1="369.3" x2="838.3" y2="330.2" stroke="#f4f4f4" stroke-opacity="0.85" stroke-width="11.3" stroke-linecap="round"/>
<line x1="838.3" y1="330.2" x2="879.2" y2="336.7" stroke="#f4f4f4" stroke-opacity="0.85" stroke-width="10.6" stroke-linecap="round"/>
<line x1="879.2" y1="336.7" x2="897.8" y2="330.2" stroke="#f4f4f4" stroke-opacity="0.85" stroke-width="9.1" stroke-linecap="round"/>
<line x1="897.8" y1="330.2" x2="957.4" y2="310.4" stroke="#f4f4f4" stroke-opacity="0.85" stroke-width="9.1" stroke-linecap="round"/>
<line x1="451.2" y1="356.3" x2="469.8" y2="349.8" stroke="#f4f4f4" stroke-opacity="0.85" stroke-width="6.0" stroke-linecap="round"/>
<line x1="469.8" y1="349.8" x2="507.0" y2="382.2" stroke="#f4f4f4" stroke-opacity="0.85" stroke-width="6.0" stroke-linecap="round"/>
<line x1="507.0" y1="382.2" x2="548.0" y2="317.0" stroke="#f4f4f4" stroke-opacity="0.85" stroke-width="6.0" stroke-linecap="round"/>
<line x1="548.0" y1="317.0" x2="577.7" y2="323.6" stroke="#f4f4f4" stroke-opacity="0.85" stroke-width="5.1" stroke-linecap="round"/>
<line x1="577.7" y1="323.6" x2="626.1" y2="330.2" stroke="#f4f4f4" stroke-opacity="0.85" stroke-width="4.8" stroke-linecap="round"/>
<line x1="451.2" y1="349.8" x2="469.8" y2="343.3" stroke="#f4f4f4" stroke-opacity="0.85" stroke-width="4.3" stroke-linecap="round"/>
<line x1="469.8" y1="343.3" x2="473.5" y2="310.4" stroke="#f4f4f4" stroke-opacity="0.85" stroke-width="3.8" stroke-linecap="round"/>
<line x1="961.1" y1="317.0" x2="953.7" y2="317.0" stroke="#000000" stroke-width="6.9" stroke-linecap="round"/>
<line x1="953.7" y1="317.0" x2="935.1" y2="362.8" stroke="#000000" stroke-width="6.8" stroke-linecap="round"/>
<line x1="935.1" y1="362.8" x2="927.6" y2="362.8" stroke="#000000" stroke-width="6.7" stroke-linecap="round"/>
<line x1="927.6" y1="362.8" x2="875.5" y2="343.3" stroke="#000000" stroke-width="6.7" stroke-linecap="round"/>
<line x1="875.5" y1="343.3" x2="834.6" y2="349.8" stroke="#000000" stroke-width="6.2" stroke-linecap="round"/>
<line x1="834.6" y1="349.8" x2="797.3" y2="375.8" stroke="#000000" stroke-width="4.4" stroke-linecap="round"/>
<line x1="797.3" y1="375.8" x2="749.0" y2="388.6" stroke="#000000" stroke-width="3.4" stroke-linecap="round"/>
<line x1="749.0" y1="388.6" x2="689.4" y2="401.5" stroke="#000000" stroke-width="2.6" stroke-linecap="round"/>
<line x1="689.4" y1="401.5" x2="644.7" y2="407.9" stroke="#000000" stroke-width="2.4" stroke-linecap="round"/>
<line x1="644.7" y1="407.9" x2="618.7" y2="414.2" stroke="#000000" stroke-width="2.4" stroke-linecap="round"/>
<line x1="618.7" y1="414.2" x2="611.2" y2="407.9" stroke="#000000" stroke-width="2.4" stroke-linecap="round"/>
<line x1="611.2" y1="407.9" x2="581.5" y2="395.1" stroke="#000000" stroke-width="2.4" stroke-linecap="round"/>
<line x1="581.5" y1="395.1" x2="555.4" y2="407.9" stroke="#000000" stroke-width="2.4" stroke-linecap="round"/>
<line x1="555.4" y1="407.9" x2="540.5" y2="401.5" stroke="#000000" stroke-width="2.0" stroke-linecap="round"/>
<line x1="540.5" y1="401.5" x2="488.4" y2="401.5" stroke="#000000" stroke-width="2.1" stroke-linecap="round"/>
<line x1="488.4" y1="401.5" x2="466.1" y2="401.5" stroke="#000000" stroke-width="1.7" stroke-linecap="round"/>
<line x1="466.1" y1="401.5" x2="458.6" y2="401.5" stroke="#000000" stroke-width="1.5" stroke-linecap="round"/>
<line x1="458.6" y1="401.5" x2="454.9" y2="401.5" stroke="#000000" stroke-width="1.5" stroke-linecap="round"/>
<line x1="626.1" y1="330.2" x2="644.7" y2="414.2" stroke="#000000" stroke-width="3.1" stroke-linecap="round"/>
<line x1="644.7" y1="414.2" x2="618.7" y2="420.6" stroke="#000000" stroke-width="3.0" stroke-linecap="round"/>
<line x1="618.7" y1="420.6" x2="611.2" y2="414.2" stroke="#000000" stroke-width="3.0" stroke-linecap="round"/>
<line x1="473.5" y1="310.4" x2="458.6" y2="401.5" stroke="#000000" stroke-width="1.6" stroke-linecap="round"/>
<line x1="458.6" y1="401.5" x2="454.9" y2="401.5" stroke="#000000" stroke-width="1.6" stroke-linecap="round"/>
<line x1="451.2" y1="369.3" x2="469.8" y2="362.8" stroke="#e5c29f" stroke-width="20.3" stroke-linecap="round"/>
<line x1="469.8" y1="362.8" x2="507.0" y2="395.1" stroke="#e5c29f" stroke-width="20.3" stroke-linecap="round"/>
<line x1="507.0" y1="395.1" x2="525.6" y2="382.2" stroke="#e5c29f" stroke-width="20.3" stroke-linecap="round"/>
<line x1="525.6" y1="382.2" x2="562.9" y2="375.8" stroke="#e5c29f" stroke-width="19.2" stroke-linecap="round"/>
<line x1="562.9" y1="375.8" x2="600.1" y2="369.3" stroke="#e5c29f" stroke-width="18.1" stroke-linecap="round"/>
<line x1="600.1" y1="369.3" x2="618.7" y2="362.8" stroke="#e5c29f" stroke-width="16.9" stroke-linecap="round"/>
<line x1="618.7" y1="362.8" x2="637.3" y2="356.3" stroke="#e5c29f" stroke-width="14.7" stroke-linecap="round"/>
<line x1="637.3" y1="356.3" x2="674.5" y2="349.8" stroke="#e5c29f" stroke-width="13.0" stroke-linecap="round"/>
<line x1="674.5" y1="349.8" x2="685.7" y2="343.3" stroke="#e5c29f" stroke-width="11.4" stroke-linecap="round"/>
<line x1="685.7" y1="343.3" x2="749.0" y2="375.8" stroke="#e5c29f" stroke-width="11.1" stroke-linecap="round"/>
<line x1="749.0" y1="375.8" x2="793.6" y2="369.3" stroke="#e5c29f" stroke-width="9.4" stroke-linecap="round"/>
<line x1="793.6" y1="369.3" x2="838.3" y2="330.2" stroke="#e5c29f" stroke-width="9.1" stroke-linecap="round"/>
<line x1="838.3" y1="330.2" x2="879.2" y2="336.7" stroke="#e5c29f" stroke-width="8.4" stroke-linecap="round"/>
<line x1="879.2" y1="336.7" x2="897.8" y2="330.2" stroke="#e5c29f" stroke-width="6.9" stroke-linecap="round"/>
<line x1="897.8" y1="330.2" x2="957.4" y2="310.4" stroke="#e5c29f" stroke-width="6.9" stroke-linecap="round"/>
<line x1="451.2" y1="356.3" x2="469.8" y2="349.8" stroke="#e5c29f" stroke-width="3.8" stroke-linecap="round"/>
<line x1="469.8" y1="349.8" x2="507.0" y2="382.2" stroke="#e5c29f" stroke-width="3.8" stroke-linecap="round"/>
<line x1="507.0" y1="382.2" x2="548.0" y2="317.0" stroke="#e5c29f" stroke-width="3.8" stroke-linecap="round"/>
<line x1="548.0" y1="317.0" x2="577.7" y2="323.6" stroke="#e5c29f" stroke-width="2.9" stroke-linecap="round"/>
<line x1="577.7" y1="323.6" x2="626.1" y2="330.2" stroke="#e5c29f" stroke-width="2.6" stroke-linecap="round"/>
<line x1="451.2" y1="349.8" x2="469.8" y2="343.3" stroke="#e5c29f" stroke-width="2.1" stroke-linecap="round"/>
<line x1="469.8" y1="343.3" x2="473.5" y2="310.4" stroke="#e5c29f" stroke-width="1.6" stroke-linecap="round"/>
</g>
<rect x="415.25" y="92.1" width="575.0" height="544.9000000000001" fill="none" stroke="#e4e4e4" stroke-width="0.7"/>
<line x1="1083.6" y1="494.9" x2="2053.0" y2="494.9" stroke="#f0f0f0" stroke-width="1.15"/>
<line x1="1083.6" y1="431.2" x2="2053.0" y2="431.2" stroke="#f0f0f0" stroke-width="1.15"/>
<line x1="1083.6" y1="367.6" x2="2053.0" y2="367.6" stroke="#f0f0f0" stroke-width="1.15"/>
<line x1="1083.6" y1="303.9" x2="2053.0" y2="303.9" stroke="#f0f0f0" stroke-width="1.15"/>
<line x1="1083.6" y1="240.2" x2="2053.0" y2="240.2" stroke="#f0f0f0" stroke-width="1.15"/>
<line x1="1083.6" y1="176.6" x2="2053.0" y2="176.6" stroke="#f0f0f0" stroke-width="1.15"/>
<line x1="1083.6" y1="112.9" x2="2053.0" y2="112.9" stroke="#f0f0f0" stroke-width="1.15"/>
<line x1="1112.4" y1="97.1" x2="1112.4" y2="587.4" stroke="#f0f0f0" stroke-width="1.15"/>
<line x1="1174.8" y1="97.1" x2="1174.8" y2="587.4" stroke="#f0f0f0" stroke-width="1.15"/>
<line x1="1237.2" y1="97.1" x2="1237.2" y2="587.4" stroke="#f0f0f0" stroke-width="1.15"/>
<line x1="1299.6" y1="97.1" x2="1299.6" y2="587.4" stroke="#f0f0f0" stroke-width="1.15"/>
<line x1="1362.0" y1="97.1" x2="1362.0" y2="587.4" stroke="#f0f0f0" stroke-width="1.15"/>
<line x1="1424.4" y1="97.1" x2="1424.4" y2="587.4" stroke="#f0f0f0" stroke-width="1.15"/>
<line x1="1486.8" y1="97.1" x2="1486.8" y2="587.4" stroke="#f0f0f0" stroke-width="1.15"/>
<line x1="1549.2" y1="97.1" x2="1549.2" y2="587.4" stroke="#f0f0f0" stroke-width="1.15"/>
<line x1="1597.6" y1="97.1" x2="1597.6" y2="587.4" stroke="#f0f0f0" stroke-width="1.15"/>
<line x1="1660.0" y1="97.1" x2="1660.0" y2="587.4" stroke="#f0f0f0" stroke-width="1.15"/>
<line x1="1722.4" y1="97.1" x2="1722.4" y2="587.4" stroke="#f0f0f0" stroke-width="1.15"/>
<line x1="1784.8" y1="97.1" x2="1784.8" y2="587.4" stroke="#f0f0f0" stroke-width="1.15"/>
<line x1="1847.2" y1="97.1" x2="1847.2" y2="587.4" stroke="#f0f0f0" stroke-width="1.15"/>
<line x1="1909.6" y1="97.1" x2="1909.6" y2="587.4" stroke="#f0f0f0" stroke-width="1.15"/>
<line x1="1972.0" y1="97.1" x2="1972.0" y2="587.4" stroke="#f0f0f0" stroke-width="1.15"/>
<line x1="2034.4" y1="97.1" x2="2034.4" y2="587.4" stroke="#f0f0f0" stroke-width="1.15"/>
<line x1="1083.6" y1="558.5" x2="2053.0" y2="558.5" stroke="#b9b9b9" stroke-width="0.9" stroke-dasharray="1.6 1.6"/>
<line x1="1078.6" y1="558.5" x2="1083.6" y2="558.5" stroke="#f0f0f0" stroke-width="1.15"/>
<line x1="1078.6" y1="494.9" x2="1083.6" y2="494.9" stroke="#f0f0f0" stroke-width="1.15"/>
<line x1="1078.6" y1="431.2" x2="1083.6" y2="431.2" stroke="#f0f0f0" stroke-width="1.15"/>
<line x1="1078.6" y1="367.6" x2="1083.6" y2="367.6" stroke="#f0f0f0" stroke-width="1.15"/>
<line x1="1078.6" y1="303.9" x2="1083.6" y2="303.9" stroke="#f0f0f0" stroke-width="1.15"/>
<line x1="1078.6" y1="240.2" x2="1083.6" y2="240.2" stroke="#f0f0f0" stroke-width="1.15"/>
<line x1="1078.6" y1="176.6" x2="1083.6" y2="176.6" stroke="#f0f0f0" stroke-width="1.15"/>
<line x1="1078.6" y1="112.9" x2="1083.6" y2="112.9" stroke="#f0f0f0" stroke-width="1.15"/>
<line x1="1083.6" y1="97.1" x2="2053.0" y2="97.1" stroke="#e6e6e6" stroke-width="1.15"/>
<line x1="1083.6" y1="582.4" x2="2053.0" y2="582.4" stroke="#cfcfcf" stroke-width="1.3"/>
<line x1="1083.6" y1="77" x2="1083.6" y2="637.6" stroke="#cecece" stroke-width="1.15"/>
<line x1="1568.5" y1="77" x2="1568.5" y2="637.6" stroke="#cfcfcf" stroke-width="1.3"/>
<line x1="2053.0" y1="77" x2="2053.0" y2="637.6" stroke="#e0e0e0" stroke-width="1.6"/>
<circle cx="1112.4" cy="125.7" r="7.1" fill="#5778a4"/>
<circle cx="1128.0" cy="125.7" r="7.1" fill="#5778a4"/>
<circle cx="1159.2" cy="125.7" r="7.1" fill="#5778a4"/>
<circle cx="1174.8" cy="151.1" r="7.1" fill="#5778a4"/>
<circle cx="1206.0" cy="176.6" r="7.1" fill="#5778a4"/>
<circle cx="1237.2" cy="202.1" r="7.1" fill="#5778a4"/>
<circle cx="1252.8" cy="253.0" r="7.1" fill="#5778a4"/>
<circle cx="1268.4" cy="291.2" r="7.1" fill="#5778a4"/>
<circle cx="1299.6" cy="329.4" r="7.1" fill="#5778a4"/>
<circle cx="1309.0" cy="335.7" r="7.1" fill="#5778a4"/>
<circle cx="1362.0" cy="373.9" r="7.1" fill="#5778a4"/>
<circle cx="1399.4" cy="380.3" r="7.1" fill="#5778a4"/>
<circle cx="1436.9" cy="396.7" r="7.1" fill="#5778a4"/>
<circle cx="1471.2" cy="431.2" r="7.1" fill="#5778a4"/>
<circle cx="1486.8" cy="431.2" r="7.1" fill="#5778a4"/>
<circle cx="1536.7" cy="431.2" r="7.1" fill="#5778a4"/>
<circle cx="2025.0" cy="431.2" r="7.1" fill="#5778a4"/>
<circle cx="2018.8" cy="433.7" r="7.1" fill="#5778a4"/>
<circle cx="2003.2" cy="435.0" r="7.1" fill="#5778a4"/>
<circle cx="1997.0" cy="436.3" r="7.1" fill="#5778a4"/>
<circle cx="1953.3" cy="447.7" r="7.1" fill="#5778a4"/>
<circle cx="1919.0" cy="488.5" r="7.1" fill="#5778a4"/>
<circle cx="1887.8" cy="511.4" r="7.1" fill="#5778a4"/>
<circle cx="1847.2" cy="527.9" r="7.1" fill="#5778a4"/>
<circle cx="1797.3" cy="533.0" r="7.1" fill="#5778a4"/>
<circle cx="1759.8" cy="533.0" r="7.1" fill="#5778a4"/>
<circle cx="1738.0" cy="533.0" r="7.1" fill="#5778a4"/>
<circle cx="1731.8" cy="533.0" r="7.1" fill="#5778a4"/>
<circle cx="1706.8" cy="533.0" r="7.1" fill="#5778a4"/>
<circle cx="1685.0" cy="543.2" r="7.1" fill="#5778a4"/>
<circle cx="1672.5" cy="540.7" r="7.1" fill="#5778a4"/>
<circle cx="1628.8" cy="548.3" r="7.1" fill="#5778a4"/>
<circle cx="1610.1" cy="553.4" r="7.1" fill="#5778a4"/>
<circle cx="1603.8" cy="553.4" r="7.1" fill="#5778a4"/>
<circle cx="1600.7" cy="553.4" r="7.1" fill="#5778a4"/>
<circle cx="1112.4" cy="482.1" r="7.1" fill="#5778a4"/>
<circle cx="1128.0" cy="482.1" r="7.1" fill="#5778a4"/>
<circle cx="1159.2" cy="482.1" r="7.1" fill="#5778a4"/>
<circle cx="1193.5" cy="507.6" r="7.1" fill="#5778a4"/>
<circle cx="1218.5" cy="516.5" r="7.1" fill="#5778a4"/>
<circle cx="1259.0" cy="516.5" r="7.1" fill="#5778a4"/>
<circle cx="1744.2" cy="516.5" r="7.1" fill="#5778a4"/>
<circle cx="1759.8" cy="520.3" r="7.1" fill="#5778a4"/>
<circle cx="1738.0" cy="520.3" r="7.1" fill="#5778a4"/>
<circle cx="1731.8" cy="522.9" r="7.1" fill="#5778a4"/>
<circle cx="1112.4" cy="530.5" r="7.1" fill="#5778a4"/>
<circle cx="1128.0" cy="530.5" r="7.1" fill="#5778a4"/>
<circle cx="1131.1" cy="550.9" r="7.1" fill="#5778a4"/>
<circle cx="1616.3" cy="550.9" r="7.1" fill="#5778a4"/>
<circle cx="1603.8" cy="550.9" r="7.1" fill="#5778a4"/>
<circle cx="1600.7" cy="550.9" r="7.1" fill="#5778a4"/>
<text x="1076.5" y="563.4" text-anchor="end" class="tk">0K</text>
<text x="1076.5" y="499.8" text-anchor="end" class="tk">50K</text>
<text x="1076.5" y="436.1" text-anchor="end" class="tk">100K</text>
<text x="1076.5" y="372.4" text-anchor="end" class="tk">150K</text>
<text x="1076.5" y="308.8" text-anchor="end" class="tk">200K</text>
<text x="1076.5" y="245.2" text-anchor="end" class="tk">250K</text>
<text x="1076.5" y="181.5" text-anchor="end" class="tk">300K</text>
<text x="1076.5" y="117.8" text-anchor="end" class="tk">350K</text>
<text x="1112.4" y="602.4" text-anchor="middle" class="tk">24</text>
<text x="1174.8" y="602.4" text-anchor="middle" class="tk">26</text>
<text x="1237.2" y="602.4" text-anchor="middle" class="tk">28</text>
<text x="1299.6" y="602.4" text-anchor="middle" class="tk">30</text>
<text x="1362.0" y="602.4" text-anchor="middle" class="tk">32</text>
<text x="1424.4" y="602.4" text-anchor="middle" class="tk">34</text>
<text x="1486.8" y="602.4" text-anchor="middle" class="tk">36</text>
<text x="1549.2" y="602.4" text-anchor="middle" class="tk">38</text>
<text x="1326.0" y="626" text-anchor="middle" class="ax">Longitude</text>
<text x="1326.0" y="92" text-anchor="middle" class="hd">Invading</text>
<text x="1597.6" y="602.4" text-anchor="middle" class="tk">24</text>
<text x="1660.0" y="602.4" text-anchor="middle" class="tk">26</text>
<text x="1722.4" y="602.4" text-anchor="middle" class="tk">28</text>
<text x="1784.8" y="602.4" text-anchor="middle" class="tk">30</text>
<text x="1847.2" y="602.4" text-anchor="middle" class="tk">32</text>
<text x="1909.6" y="602.4" text-anchor="middle" class="tk">34</text>
<text x="1972.0" y="602.4" text-anchor="middle" class="tk">36</text>
<text x="2034.4" y="602.4" text-anchor="middle" class="tk">38</text>
<text x="1810.8" y="626" text-anchor="middle" class="ax">Longitude</text>
<text x="1810.8" y="92" text-anchor="middle" class="hd">Retreating</text>
<text transform="translate(1038,338.4) rotate(-90)" text-anchor="middle" class="ax">Survivors</text>
</svg>
<div class="sub" style="left:678px;top:656.5px;">(a)</div>
<div class="sub" style="left:1510.9px;top:656.5px;">(b)</div>
<div class="cap" style="top:750.9px;transform:scaleX(0.98349);">Figure 1:<i class="sp"></i> Two re-creations of Charles Minard’s map of the invasion of Russia in Tableau.<i class="sp"></i> In (1a) we hew as closely as possible to</div>
<div class="cap" style="top:801px;transform:scaleX(1.0137);">Minard’s design.<i class="sp" style="width:8px"></i> In (1b) we attempt to encode all of the same data about the three groups of the invasion force using the most</div>
<div class="cap last" style="top:851px;left:83.6px;word-spacing:0.1px;">e<span style="letter-spacing:-1.05px">ff</span>icient channel:<i class="sp"></i> position on a common axis.<i class="sp"></i> In which circumstances might we prefer (1a) over (1b)?</div>
</body></html>
